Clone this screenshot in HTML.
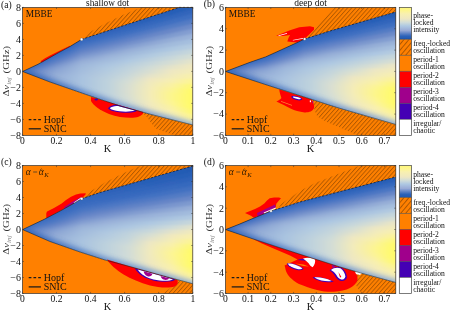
<!DOCTYPE html>
<html><head><meta charset="utf-8"><title>figure</title>
<style>
html,body{margin:0;padding:0;background:#fff;}
body{width:450px;height:311px;overflow:hidden;position:relative;font-family:"Liberation Serif",serif;}
svg{position:absolute;left:0;top:0;opacity:0.999;}
text{font-family:"Liberation Serif",serif;fill:#111;}
.t{font-size:9.6px;}
.s{font-size:7.6px;}
</style></head><body>
<svg width="450" height="311" viewBox="0 0 450 311">
<defs>
<pattern id="hatch" width="3.06" height="3.06" patternUnits="userSpaceOnUse" patternTransform="rotate(-48)">
<rect width="3.06" height="3.06" fill="#ff8000"/>
<line x1="0" y1="0.5" x2="3.06" y2="0.5" stroke="#552a00" stroke-width="0.42"/>
</pattern>
<pattern id="hatch2" width="3.8" height="3.8" patternUnits="userSpaceOnUse" patternTransform="rotate(-50)">
<rect width="3.8" height="3.8" fill="#ff8000"/>
<line x1="0" y1="0.5" x2="3.8" y2="0.5" stroke="#4a2400" stroke-width="0.45"/>
</pattern>

<linearGradient id="ga" gradientUnits="userSpaceOnUse" x1="179.5" y1="7.4" x2="214.3" y2="113.9">
<stop offset="0" stop-color="#1f58b2"/>
<stop offset="0.09" stop-color="#3a6cc0"/>
<stop offset="0.17" stop-color="#6a88c8"/>
<stop offset="0.25" stop-color="#a0acd4"/>
<stop offset="0.33" stop-color="#b4cce2"/>
<stop offset="0.42" stop-color="#d0dcd8"/>
<stop offset="0.5" stop-color="#eee7c2"/>
<stop offset="0.65" stop-color="#f4ecb8"/>
<stop offset="0.8" stop-color="#f2eab8"/>
<stop offset="1" stop-color="#ece6c0"/>
</linearGradient>
<linearGradient id="gb" gradientUnits="userSpaceOnUse" x1="395.8" y1="12.0" x2="429.4" y2="125.1">
<stop offset="0" stop-color="#1f58b2"/>
<stop offset="0.09" stop-color="#3a6cc0"/>
<stop offset="0.17" stop-color="#6a88c8"/>
<stop offset="0.25" stop-color="#a0acd4"/>
<stop offset="0.33" stop-color="#b4cce2"/>
<stop offset="0.42" stop-color="#d0dcd8"/>
<stop offset="0.5" stop-color="#eee7c2"/>
<stop offset="0.65" stop-color="#f4ecb8"/>
<stop offset="0.8" stop-color="#f2eab8"/>
<stop offset="1" stop-color="#ece6c0"/>
</linearGradient>
<linearGradient id="gc" gradientUnits="userSpaceOnUse" x1="192.8" y1="166.0" x2="224.4" y2="273.4">
<stop offset="0" stop-color="#1f58b2"/>
<stop offset="0.09" stop-color="#3a6cc0"/>
<stop offset="0.17" stop-color="#6a88c8"/>
<stop offset="0.25" stop-color="#a0acd4"/>
<stop offset="0.33" stop-color="#b4cce2"/>
<stop offset="0.42" stop-color="#d0dcd8"/>
<stop offset="0.5" stop-color="#eee7c2"/>
<stop offset="0.65" stop-color="#f4ecb8"/>
<stop offset="0.8" stop-color="#f2eab8"/>
<stop offset="1" stop-color="#ece6c0"/>
</linearGradient>
<linearGradient id="gd" gradientUnits="userSpaceOnUse" x1="395.8" y1="177.0" x2="425.2" y2="285.1">
<stop offset="0" stop-color="#1f58b2"/>
<stop offset="0.09" stop-color="#3a6cc0"/>
<stop offset="0.17" stop-color="#6a88c8"/>
<stop offset="0.25" stop-color="#a0acd4"/>
<stop offset="0.33" stop-color="#b4cce2"/>
<stop offset="0.42" stop-color="#d0dcd8"/>
<stop offset="0.5" stop-color="#eee7c2"/>
<stop offset="0.65" stop-color="#f4ecb8"/>
<stop offset="0.8" stop-color="#f2eab8"/>
<stop offset="1" stop-color="#ece6c0"/>
</linearGradient>
<linearGradient id="cb" gradientUnits="userSpaceOnUse" x1="0" y1="39.4" x2="0" y2="7.4">
<stop offset="0" stop-color="#1f58b2"/>
<stop offset="0.1" stop-color="#2c62b8"/>
<stop offset="0.18" stop-color="#5a80c6"/>
<stop offset="0.28" stop-color="#98aad6"/>
<stop offset="0.42" stop-color="#aec8e2"/>
<stop offset="0.53" stop-color="#d0dcd8"/>
<stop offset="0.64" stop-color="#eee7c2"/>
<stop offset="0.8" stop-color="#f8f0b0"/>
<stop offset="0.9" stop-color="#fdf590"/>
<stop offset="1" stop-color="#fff978"/>
</linearGradient>
<linearGradient id="ta" gradientUnits="userSpaceOnUse" x1="22" y1="0" x2="150" y2="0"><stop offset="0" stop-color="#7c9ccc" stop-opacity="0.12"/><stop offset="1" stop-color="#4a78be" stop-opacity="0"/></linearGradient>
<linearGradient id="tb" gradientUnits="userSpaceOnUse" x1="225" y1="0" x2="360" y2="0"><stop offset="0" stop-color="#7c9ccc" stop-opacity="0.12"/><stop offset="1" stop-color="#4a78be" stop-opacity="0"/></linearGradient>
<radialGradient id="ya" gradientUnits="userSpaceOnUse" cx="198" cy="95" r="62"><stop offset="0" stop-color="#fffa60" stop-opacity="0.95"/><stop offset="0.35" stop-color="#fff670" stop-opacity="0.6"/><stop offset="0.7" stop-color="#fff290" stop-opacity="0.2"/><stop offset="1" stop-color="#fff290" stop-opacity="0"/></radialGradient>
<radialGradient id="yb" gradientUnits="userSpaceOnUse" cx="401" cy="90" r="66"><stop offset="0" stop-color="#fffa60" stop-opacity="0.95"/><stop offset="0.35" stop-color="#fff670" stop-opacity="0.6"/><stop offset="0.7" stop-color="#fff290" stop-opacity="0.2"/><stop offset="1" stop-color="#fff290" stop-opacity="0"/></radialGradient>
<radialGradient id="yc" gradientUnits="userSpaceOnUse" cx="198" cy="253" r="62"><stop offset="0" stop-color="#fffa60" stop-opacity="0.95"/><stop offset="0.35" stop-color="#fff670" stop-opacity="0.6"/><stop offset="0.7" stop-color="#fff290" stop-opacity="0.2"/><stop offset="1" stop-color="#fff290" stop-opacity="0"/></radialGradient>
<radialGradient id="yd" gradientUnits="userSpaceOnUse" cx="401" cy="250" r="66"><stop offset="0" stop-color="#fffa60" stop-opacity="0.95"/><stop offset="0.35" stop-color="#fff670" stop-opacity="0.6"/><stop offset="0.7" stop-color="#fff290" stop-opacity="0.2"/><stop offset="1" stop-color="#fff290" stop-opacity="0"/></radialGradient>
<filter id="bl1" x="-5%" y="-5%" width="110%" height="110%"><feGaussianBlur stdDeviation="1.1"/></filter>
<linearGradient id="lsa" gradientUnits="userSpaceOnUse" x1="22" y1="0" x2="193" y2="0"><stop offset="0" stop-color="#2f64ba"/><stop offset="0.45" stop-color="#5c86c6"/><stop offset="1" stop-color="#88a8d4"/></linearGradient>
<linearGradient id="lsb" gradientUnits="userSpaceOnUse" x1="225" y1="0" x2="396" y2="0"><stop offset="0" stop-color="#2f64ba"/><stop offset="0.45" stop-color="#5c86c6"/><stop offset="1" stop-color="#88a8d4"/></linearGradient>
<filter id="bl" x="-10%" y="-10%" width="120%" height="120%"><feGaussianBlur stdDeviation="2.6"/></filter>
</defs>
<rect width="450" height="311" fill="#fff"/>
<g>
<rect x="22.4" y="7.4" width="170.4" height="128.0" fill="#ff8000"/>
<polygon points="81.6,39.4 92.0,31.0 105.0,23.4 125.0,14.0 141.0,7.4 179.5,7.4" fill="url(#hatch)"/>
<polygon points="142.0,112.0 192.8,125.0 192.8,135.4 175.0,135.4 165.0,132.0 156.0,128.5 152.0,124.0 147.0,117.0" fill="url(#hatch)"/>
<clipPath id="clip_ga"><polygon points="192.8,125.0 175.0,120.5 150.0,114.2 120.0,106.0 100.0,99.3 80.0,92.4 50.0,82.0 22.6,71.5 38.0,64.3 56.7,53.7 70.0,46.5 81.6,39.4 130.0,23.5 179.5,7.4 192.8,7.4"/></clipPath>
<g clip-path="url(#clip_ga)">
<rect x="22.4" y="7.4" width="170.4" height="128.0" fill="url(#ga)"/>
<g filter="url(#bl1)">
<linearGradient id="gar0" gradientUnits="userSpaceOnUse" x1="22.4" y1="0" x2="192.8" y2="0"><stop offset="0" stop-color="#4975c2"/><stop offset="0.08" stop-color="#3a6cc0"/><stop offset="0.2" stop-color="#3367bc"/><stop offset="0.35" stop-color="#2b61b8"/><stop offset="0.5" stop-color="#245cb5"/><stop offset="0.62" stop-color="#1f58b2"/><stop offset="0.75" stop-color="#1f58b2"/><stop offset="0.88" stop-color="#1f58b2"/><stop offset="1" stop-color="#1f58b2"/></linearGradient>
<polygon points="22.4,71.5 22.6,71.5 38.0,62.7 50.0,54.6 56.7,50.0 70.0,41.4 80.0,34.1 81.6,33.0 100.0,25.5 120.0,17.4 150.0,5.4 175.0,-4.5 179.5,-6.3 192.8,-11.6 192.8,140.1 179.5,135.8 175.0,134.4 150.0,126.4 120.0,116.0 100.0,107.7 81.6,99.9 80.0,99.1 70.0,94.5 56.7,88.5 50.0,85.4 38.0,79.5 22.6,72.0 22.4,72.0" fill="url(#gar0)"/>
<linearGradient id="gar1" gradientUnits="userSpaceOnUse" x1="22.4" y1="0" x2="192.8" y2="0"><stop offset="0" stop-color="#4975c2"/><stop offset="0.08" stop-color="#3c6dc0"/><stop offset="0.2" stop-color="#3568bd"/><stop offset="0.35" stop-color="#2e63ba"/><stop offset="0.5" stop-color="#285fb7"/><stop offset="0.62" stop-color="#235bb4"/><stop offset="0.75" stop-color="#1f58b2"/><stop offset="0.88" stop-color="#1f58b2"/><stop offset="1" stop-color="#1f58b2"/></linearGradient>
<polygon points="22.4,71.5 22.6,71.5 38.0,63.3 50.0,55.6 56.7,51.3 70.0,43.2 80.0,36.3 81.6,35.2 100.0,28.2 120.0,20.6 150.0,9.4 175.0,0.1 179.5,-1.6 192.8,-6.5 192.8,140.1 179.5,135.8 175.0,134.4 150.0,126.4 120.0,116.0 100.0,107.7 81.6,99.9 80.0,99.1 70.0,94.5 56.7,88.5 50.0,85.4 38.0,79.5 22.6,72.0 22.4,72.0" fill="url(#gar1)"/>
<linearGradient id="gar2" gradientUnits="userSpaceOnUse" x1="22.4" y1="0" x2="192.8" y2="0"><stop offset="0" stop-color="#4975c2"/><stop offset="0.08" stop-color="#3e6ec1"/><stop offset="0.2" stop-color="#3669be"/><stop offset="0.35" stop-color="#3165bb"/><stop offset="0.5" stop-color="#2b61b8"/><stop offset="0.62" stop-color="#285eb6"/><stop offset="0.75" stop-color="#245bb4"/><stop offset="0.88" stop-color="#2059b2"/><stop offset="1" stop-color="#1f58b2"/></linearGradient>
<polygon points="22.4,71.5 22.6,71.5 38.0,63.8 50.0,56.6 56.7,52.6 70.0,44.9 80.0,38.4 81.6,37.4 100.0,30.9 120.0,23.9 150.0,13.4 175.0,4.7 179.5,3.1 192.8,-1.5 192.8,140.1 179.5,135.8 175.0,134.4 150.0,126.4 120.0,116.0 100.0,107.7 81.6,99.9 80.0,99.1 70.0,94.5 56.7,88.5 50.0,85.4 38.0,79.5 22.6,72.0 22.4,72.0" fill="url(#gar2)"/>
<linearGradient id="gar3" gradientUnits="userSpaceOnUse" x1="22.4" y1="0" x2="192.8" y2="0"><stop offset="0" stop-color="#4975c2"/><stop offset="0.08" stop-color="#4170c1"/><stop offset="0.2" stop-color="#396bc0"/><stop offset="0.35" stop-color="#3568bd"/><stop offset="0.5" stop-color="#3165bb"/><stop offset="0.62" stop-color="#2e63ba"/><stop offset="0.75" stop-color="#2b61b8"/><stop offset="0.88" stop-color="#285fb7"/><stop offset="1" stop-color="#265db5"/></linearGradient>
<polygon points="22.4,71.5 22.6,71.5 38.0,64.4 50.0,57.6 56.7,53.8 70.0,46.7 80.0,40.6 81.6,39.6 100.0,33.6 120.0,27.2 150.0,17.4 175.0,9.3 179.5,7.9 192.8,3.5 192.8,140.1 179.5,135.8 175.0,134.4 150.0,126.4 120.0,116.0 100.0,107.7 81.6,99.9 80.0,99.1 70.0,94.5 56.7,88.5 50.0,85.4 38.0,79.5 22.6,72.0 22.4,72.0" fill="url(#gar3)"/>
<linearGradient id="gar4" gradientUnits="userSpaceOnUse" x1="22.4" y1="0" x2="192.8" y2="0"><stop offset="0" stop-color="#4975c2"/><stop offset="0.08" stop-color="#4472c2"/><stop offset="0.2" stop-color="#3f6fc1"/><stop offset="0.35" stop-color="#3a6cc0"/><stop offset="0.5" stop-color="#386abf"/><stop offset="0.62" stop-color="#3669be"/><stop offset="0.75" stop-color="#3468bd"/><stop offset="0.88" stop-color="#3266bc"/><stop offset="1" stop-color="#3165bb"/></linearGradient>
<polygon points="22.4,71.5 22.6,71.5 38.0,64.9 50.0,58.6 56.7,55.1 70.0,48.4 80.0,42.7 81.6,41.8 100.0,36.4 120.0,30.4 150.0,21.4 175.0,13.9 179.5,12.6 192.8,8.6 192.8,140.1 179.5,135.8 175.0,134.4 150.0,126.4 120.0,116.0 100.0,107.7 81.6,99.9 80.0,99.1 70.0,94.5 56.7,88.5 50.0,85.4 38.0,79.5 22.6,72.0 22.4,72.0" fill="url(#gar4)"/>
<linearGradient id="gar5" gradientUnits="userSpaceOnUse" x1="22.4" y1="0" x2="192.8" y2="0"><stop offset="0" stop-color="#4975c2"/><stop offset="0.08" stop-color="#4774c2"/><stop offset="0.2" stop-color="#4673c2"/><stop offset="0.35" stop-color="#4472c2"/><stop offset="0.5" stop-color="#4271c1"/><stop offset="0.62" stop-color="#4170c1"/><stop offset="0.75" stop-color="#406fc1"/><stop offset="0.88" stop-color="#3f6fc1"/><stop offset="1" stop-color="#3e6ec1"/></linearGradient>
<polygon points="22.4,71.5 22.6,71.5 38.0,65.4 50.0,59.6 56.7,56.4 70.0,50.2 80.0,44.9 81.6,44.0 100.0,39.1 120.0,33.7 150.0,25.5 175.0,18.5 179.5,17.3 192.8,13.6 192.8,140.1 179.5,135.8 175.0,134.4 150.0,126.4 120.0,116.0 100.0,107.7 81.6,99.9 80.0,99.1 70.0,94.5 56.7,88.5 50.0,85.4 38.0,79.5 22.6,72.0 22.4,72.0" fill="url(#gar5)"/>
<linearGradient id="gar6" gradientUnits="userSpaceOnUse" x1="22.4" y1="0" x2="192.8" y2="0"><stop offset="0" stop-color="#4975c2"/><stop offset="0.08" stop-color="#4b76c3"/><stop offset="0.2" stop-color="#4c77c3"/><stop offset="0.35" stop-color="#4e78c3"/><stop offset="0.5" stop-color="#5079c4"/><stop offset="0.62" stop-color="#5179c4"/><stop offset="0.75" stop-color="#527ac4"/><stop offset="0.88" stop-color="#537bc4"/><stop offset="1" stop-color="#547bc4"/></linearGradient>
<polygon points="22.4,71.5 22.6,71.5 38.0,66.0 50.0,60.6 56.7,57.6 70.0,51.9 80.0,47.0 81.6,46.3 100.0,41.8 120.0,37.0 150.0,29.5 175.0,23.2 179.5,22.0 192.8,18.7 192.8,140.1 179.5,135.8 175.0,134.4 150.0,126.4 120.0,116.0 100.0,107.7 81.6,99.9 80.0,99.1 70.0,94.5 56.7,88.5 50.0,85.4 38.0,79.5 22.6,72.0 22.4,72.0" fill="url(#gar6)"/>
<linearGradient id="gar7" gradientUnits="userSpaceOnUse" x1="22.4" y1="0" x2="192.8" y2="0"><stop offset="0" stop-color="#4975c2"/><stop offset="0.08" stop-color="#4e78c3"/><stop offset="0.2" stop-color="#547bc4"/><stop offset="0.35" stop-color="#597ec5"/><stop offset="0.5" stop-color="#5e81c6"/><stop offset="0.62" stop-color="#6283c7"/><stop offset="0.75" stop-color="#6686c7"/><stop offset="0.88" stop-color="#6a88c8"/><stop offset="1" stop-color="#6d8bc9"/></linearGradient>
<polygon points="22.4,71.5 22.6,71.5 38.0,66.5 50.0,61.6 56.7,58.9 70.0,53.7 80.0,49.2 81.6,48.5 100.0,44.5 120.0,40.3 150.0,33.5 175.0,27.8 179.5,26.7 192.8,23.7 192.8,140.1 179.5,135.8 175.0,134.4 150.0,126.4 120.0,116.0 100.0,107.7 81.6,99.9 80.0,99.1 70.0,94.5 56.7,88.5 50.0,85.4 38.0,79.5 22.6,72.0 22.4,72.0" fill="url(#gar7)"/>
<linearGradient id="gar8" gradientUnits="userSpaceOnUse" x1="22.4" y1="0" x2="192.8" y2="0"><stop offset="0" stop-color="#4975c2"/><stop offset="0.08" stop-color="#527ac4"/><stop offset="0.2" stop-color="#5b7fc6"/><stop offset="0.35" stop-color="#6585c7"/><stop offset="0.5" stop-color="#6d8bc9"/><stop offset="0.62" stop-color="#7390cb"/><stop offset="0.75" stop-color="#7995cd"/><stop offset="0.88" stop-color="#7f9bcf"/><stop offset="1" stop-color="#859fd1"/></linearGradient>
<polygon points="22.4,71.5 22.6,71.5 38.0,67.1 50.0,62.7 56.7,60.2 70.0,55.4 80.0,51.3 81.6,50.7 100.0,47.3 120.0,43.5 150.0,37.5 175.0,32.4 179.5,31.5 192.8,28.7 192.8,140.1 179.5,135.8 175.0,134.4 150.0,126.4 120.0,116.0 100.0,107.7 81.6,99.9 80.0,99.1 70.0,94.5 56.7,88.5 50.0,85.4 38.0,79.5 22.6,72.0 22.4,72.0" fill="url(#gar8)"/>
<linearGradient id="gar9" gradientUnits="userSpaceOnUse" x1="22.4" y1="0" x2="192.8" y2="0"><stop offset="0" stop-color="#4975c2"/><stop offset="0.08" stop-color="#567cc5"/><stop offset="0.2" stop-color="#6384c7"/><stop offset="0.35" stop-color="#708dca"/><stop offset="0.5" stop-color="#7b97ce"/><stop offset="0.62" stop-color="#849fd1"/><stop offset="0.75" stop-color="#8da6d4"/><stop offset="0.88" stop-color="#95aed7"/><stop offset="1" stop-color="#9ab2d9"/></linearGradient>
<polygon points="22.4,71.5 22.6,71.5 38.0,67.6 50.0,63.7 56.7,61.4 70.0,57.2 80.0,53.5 81.6,52.9 100.0,50.0 120.0,46.8 150.0,41.5 175.0,37.0 179.5,36.2 192.8,33.8 192.8,140.1 179.5,135.8 175.0,134.4 150.0,126.4 120.0,116.0 100.0,107.7 81.6,99.9 80.0,99.1 70.0,94.5 56.7,88.5 50.0,85.4 38.0,79.5 22.6,72.0 22.4,72.0" fill="url(#gar9)"/>
<linearGradient id="gar10" gradientUnits="userSpaceOnUse" x1="22.4" y1="0" x2="192.8" y2="0"><stop offset="0" stop-color="#4975c2"/><stop offset="0.08" stop-color="#5a7fc5"/><stop offset="0.2" stop-color="#6b89c8"/><stop offset="0.35" stop-color="#7b97ce"/><stop offset="0.5" stop-color="#8aa4d3"/><stop offset="0.62" stop-color="#96aed7"/><stop offset="0.75" stop-color="#9cb5da"/><stop offset="0.88" stop-color="#a2bbdc"/><stop offset="1" stop-color="#a6c0df"/></linearGradient>
<polygon points="22.4,71.5 22.6,71.5 38.0,68.1 50.0,64.7 56.7,62.7 70.0,58.9 80.0,55.6 81.6,55.1 100.0,52.7 120.0,50.1 150.0,45.5 175.0,41.6 179.5,40.9 192.8,38.8 192.8,140.1 179.5,135.8 175.0,134.4 150.0,126.4 120.0,116.0 100.0,107.7 81.6,99.9 80.0,99.1 70.0,94.5 56.7,88.5 50.0,85.4 38.0,79.5 22.6,72.0 22.4,72.0" fill="url(#gar10)"/>
<linearGradient id="gar11" gradientUnits="userSpaceOnUse" x1="22.4" y1="0" x2="192.8" y2="0"><stop offset="0" stop-color="#4975c2"/><stop offset="0.08" stop-color="#5e81c6"/><stop offset="0.2" stop-color="#728fcb"/><stop offset="0.35" stop-color="#87a1d2"/><stop offset="0.5" stop-color="#99b1d8"/><stop offset="0.62" stop-color="#9fb8db"/><stop offset="0.75" stop-color="#a6c0de"/><stop offset="0.88" stop-color="#adc7e1"/><stop offset="1" stop-color="#b5cce0"/></linearGradient>
<polygon points="22.4,71.5 22.6,71.5 38.0,68.7 50.0,65.7 56.7,63.9 70.0,60.7 80.0,57.8 81.6,57.3 100.0,55.4 120.0,53.3 150.0,49.6 175.0,46.2 179.5,45.6 192.8,43.9 192.8,140.1 179.5,135.8 175.0,134.4 150.0,126.4 120.0,116.0 100.0,107.7 81.6,99.9 80.0,99.1 70.0,94.5 56.7,88.5 50.0,85.4 38.0,79.5 22.6,72.0 22.4,72.0" fill="url(#gar11)"/>
<linearGradient id="gar12" gradientUnits="userSpaceOnUse" x1="22.4" y1="0" x2="192.8" y2="0"><stop offset="0" stop-color="#4975c2"/><stop offset="0.08" stop-color="#6283c7"/><stop offset="0.2" stop-color="#7a96ce"/><stop offset="0.35" stop-color="#93abd6"/><stop offset="0.5" stop-color="#a0b9dc"/><stop offset="0.62" stop-color="#a8c1df"/><stop offset="0.75" stop-color="#b1cae1"/><stop offset="0.88" stop-color="#bcd0de"/><stop offset="1" stop-color="#c6d6db"/></linearGradient>
<polygon points="22.4,71.5 22.6,71.5 38.0,69.2 50.0,66.7 56.7,65.2 70.0,62.5 80.0,59.9 81.6,59.5 100.0,58.2 120.0,56.6 150.0,53.6 175.0,50.8 179.5,50.4 192.8,48.9 192.8,140.1 179.5,135.8 175.0,134.4 150.0,126.4 120.0,116.0 100.0,107.7 81.6,99.9 80.0,99.1 70.0,94.5 56.7,88.5 50.0,85.4 38.0,79.5 22.6,72.0 22.4,72.0" fill="url(#gar12)"/>
<linearGradient id="gar13" gradientUnits="userSpaceOnUse" x1="22.4" y1="0" x2="192.8" y2="0"><stop offset="0" stop-color="#4975c2"/><stop offset="0.08" stop-color="#6585c7"/><stop offset="0.2" stop-color="#809bd0"/><stop offset="0.35" stop-color="#9ab2d9"/><stop offset="0.5" stop-color="#a6bfde"/><stop offset="0.62" stop-color="#afc9e2"/><stop offset="0.75" stop-color="#bcd0de"/><stop offset="0.88" stop-color="#c9d8da"/><stop offset="1" stop-color="#d5ded5"/></linearGradient>
<polygon points="22.4,71.5 22.6,71.5 38.0,69.8 50.0,67.7 56.7,66.5 70.0,64.2 80.0,62.1 81.6,61.7 100.0,60.9 120.0,59.9 150.0,57.6 175.0,55.5 179.5,55.1 192.8,53.9 192.8,140.1 179.5,135.8 175.0,134.4 150.0,126.4 120.0,116.0 100.0,107.7 81.6,99.9 80.0,99.1 70.0,94.5 56.7,88.5 50.0,85.4 38.0,79.5 22.6,72.0 22.4,72.0" fill="url(#gar13)"/>
<linearGradient id="gar14" gradientUnits="userSpaceOnUse" x1="22.4" y1="0" x2="192.8" y2="0"><stop offset="0" stop-color="#4975c2"/><stop offset="0.08" stop-color="#6887c8"/><stop offset="0.2" stop-color="#86a0d2"/><stop offset="0.35" stop-color="#9eb7db"/><stop offset="0.5" stop-color="#abc5e1"/><stop offset="0.62" stop-color="#b8cedf"/><stop offset="0.75" stop-color="#c7d7db"/><stop offset="0.88" stop-color="#d6ded3"/><stop offset="1" stop-color="#e5e4c9"/></linearGradient>
<polygon points="22.4,71.5 22.6,71.5 38.0,70.3 50.0,68.7 56.7,67.7 70.0,66.0 80.0,64.2 81.6,64.0 100.0,63.6 120.0,63.2 150.0,61.6 175.0,60.1 179.5,59.8 192.8,59.0 192.8,140.1 179.5,135.8 175.0,134.4 150.0,126.4 120.0,116.0 100.0,107.7 81.6,99.9 80.0,99.1 70.0,94.5 56.7,88.5 50.0,85.4 38.0,79.5 22.6,72.0 22.4,72.0" fill="url(#gar14)"/>
<linearGradient id="gar15" gradientUnits="userSpaceOnUse" x1="22.4" y1="0" x2="192.8" y2="0"><stop offset="0" stop-color="#4975c2"/><stop offset="0.08" stop-color="#6a88c8"/><stop offset="0.2" stop-color="#8aa4d3"/><stop offset="0.35" stop-color="#a1badc"/><stop offset="0.5" stop-color="#b0c9e1"/><stop offset="0.62" stop-color="#bfd2dd"/><stop offset="0.75" stop-color="#d1dcd7"/><stop offset="0.88" stop-color="#e4e3c9"/><stop offset="1" stop-color="#f0e9bf"/></linearGradient>
<polygon points="22.4,71.5 22.6,71.5 38.0,70.9 50.0,69.7 56.7,69.0 70.0,67.7 80.0,66.4 81.6,66.2 100.0,66.3 120.0,66.4 150.0,65.6 175.0,64.7 179.5,64.5 192.8,64.0 192.8,140.1 179.5,135.8 175.0,134.4 150.0,126.4 120.0,116.0 100.0,107.7 81.6,99.9 80.0,99.1 70.0,94.5 56.7,88.5 50.0,85.4 38.0,79.5 22.6,72.0 22.4,72.0" fill="url(#gar15)"/>
<linearGradient id="gar16" gradientUnits="userSpaceOnUse" x1="22.4" y1="0" x2="192.8" y2="0"><stop offset="0" stop-color="#4975c2"/><stop offset="0.08" stop-color="#6c89c9"/><stop offset="0.2" stop-color="#8da6d4"/><stop offset="0.35" stop-color="#a3bcdd"/><stop offset="0.5" stop-color="#b3cbe0"/><stop offset="0.62" stop-color="#c4d5dc"/><stop offset="0.75" stop-color="#d9dfd1"/><stop offset="0.88" stop-color="#efe8c1"/><stop offset="1" stop-color="#f4ecb8"/></linearGradient>
<polygon points="22.4,71.5 22.6,71.5 38.0,71.4 50.0,70.8 56.7,70.3 70.0,69.5 80.0,68.5 81.6,68.4 100.0,69.1 120.0,69.7 150.0,69.6 175.0,69.3 179.5,69.2 192.8,69.1 192.8,140.1 179.5,135.8 175.0,134.4 150.0,126.4 120.0,116.0 100.0,107.7 81.6,99.9 80.0,99.1 70.0,94.5 56.7,88.5 50.0,85.4 38.0,79.5 22.6,72.0 22.4,72.0" fill="url(#gar16)"/>
<linearGradient id="gar17" gradientUnits="userSpaceOnUse" x1="22.4" y1="0" x2="192.8" y2="0"><stop offset="0" stop-color="#4975c2"/><stop offset="0.08" stop-color="#6d8bc9"/><stop offset="0.2" stop-color="#8fa8d5"/><stop offset="0.35" stop-color="#a5bede"/><stop offset="0.5" stop-color="#b7cddf"/><stop offset="0.62" stop-color="#c9d8da"/><stop offset="0.75" stop-color="#e4e3ca"/><stop offset="0.88" stop-color="#f2ebba"/><stop offset="1" stop-color="#f9f1aa"/></linearGradient>
<polygon points="22.4,71.5 22.6,71.5 38.0,71.9 50.0,71.8 56.7,71.5 70.0,71.2 80.0,70.7 81.6,70.6 100.0,71.8 120.0,73.0 150.0,73.7 175.0,73.9 179.5,74.0 192.8,74.1 192.8,140.1 179.5,135.8 175.0,134.4 150.0,126.4 120.0,116.0 100.0,107.7 81.6,99.9 80.0,99.1 70.0,94.5 56.7,88.5 50.0,85.4 38.0,79.5 22.6,72.0 22.4,72.0" fill="url(#gar17)"/>
<linearGradient id="gar18" gradientUnits="userSpaceOnUse" x1="22.4" y1="0" x2="192.8" y2="0"><stop offset="0" stop-color="#4975c2"/><stop offset="0.08" stop-color="#6e8cc9"/><stop offset="0.2" stop-color="#92abd6"/><stop offset="0.35" stop-color="#a7c0df"/><stop offset="0.5" stop-color="#bacfde"/><stop offset="0.62" stop-color="#cfdbd8"/><stop offset="0.75" stop-color="#efe7c1"/><stop offset="0.88" stop-color="#f7efb1"/><stop offset="1" stop-color="#fdf591"/></linearGradient>
<polygon points="22.4,71.5 22.6,71.5 38.0,72.5 50.0,72.8 56.7,72.8 70.0,73.0 80.0,72.8 81.6,72.8 100.0,74.5 120.0,76.2 150.0,77.7 175.0,78.5 179.5,78.7 192.8,79.1 192.8,140.1 179.5,135.8 175.0,134.4 150.0,126.4 120.0,116.0 100.0,107.7 81.6,99.9 80.0,99.1 70.0,94.5 56.7,88.5 50.0,85.4 38.0,79.5 22.6,72.0 22.4,72.0" fill="url(#gar18)"/>
<linearGradient id="gar19" gradientUnits="userSpaceOnUse" x1="22.4" y1="0" x2="192.8" y2="0"><stop offset="0" stop-color="#4975c2"/><stop offset="0.08" stop-color="#708dca"/><stop offset="0.2" stop-color="#94add7"/><stop offset="0.35" stop-color="#a9c2e0"/><stop offset="0.5" stop-color="#bdd1dd"/><stop offset="0.62" stop-color="#d5ded5"/><stop offset="0.75" stop-color="#f1eabc"/><stop offset="0.88" stop-color="#faf2a1"/><stop offset="1" stop-color="#fef974"/></linearGradient>
<polygon points="22.4,71.5 22.6,71.5 38.0,73.0 50.0,73.8 56.7,74.1 70.0,74.7 80.0,75.0 81.6,75.0 100.0,77.2 120.0,79.5 150.0,81.7 175.0,83.1 179.5,83.4 192.8,84.2 192.8,140.1 179.5,135.8 175.0,134.4 150.0,126.4 120.0,116.0 100.0,107.7 81.6,99.9 80.0,99.1 70.0,94.5 56.7,88.5 50.0,85.4 38.0,79.5 22.6,72.0 22.4,72.0" fill="url(#gar19)"/>
<linearGradient id="gar20" gradientUnits="userSpaceOnUse" x1="22.4" y1="0" x2="192.8" y2="0"><stop offset="0" stop-color="#4975c2"/><stop offset="0.08" stop-color="#708dca"/><stop offset="0.2" stop-color="#95aed7"/><stop offset="0.35" stop-color="#a9c3e0"/><stop offset="0.5" stop-color="#bed2dd"/><stop offset="0.62" stop-color="#d8dfd2"/><stop offset="0.75" stop-color="#f3ebb9"/><stop offset="0.88" stop-color="#fcf493"/><stop offset="1" stop-color="#fffb66"/></linearGradient>
<polygon points="22.4,71.5 22.6,71.5 38.0,73.6 50.0,74.8 56.7,75.3 70.0,76.5 80.0,77.1 81.6,77.2 100.0,80.0 120.0,82.8 150.0,85.7 175.0,87.8 179.5,88.1 192.8,89.2 192.8,140.1 179.5,135.8 175.0,134.4 150.0,126.4 120.0,116.0 100.0,107.7 81.6,99.9 80.0,99.1 70.0,94.5 56.7,88.5 50.0,85.4 38.0,79.5 22.6,72.0 22.4,72.0" fill="url(#gar20)"/>
<linearGradient id="gar21" gradientUnits="userSpaceOnUse" x1="22.4" y1="0" x2="192.8" y2="0"><stop offset="0" stop-color="#4975c2"/><stop offset="0.08" stop-color="#708dca"/><stop offset="0.2" stop-color="#95aed7"/><stop offset="0.35" stop-color="#a9c3e0"/><stop offset="0.5" stop-color="#bed2dd"/><stop offset="0.62" stop-color="#d9dfd2"/><stop offset="0.75" stop-color="#f4ecb7"/><stop offset="0.88" stop-color="#fdf68b"/><stop offset="1" stop-color="#fffb66"/></linearGradient>
<polygon points="22.4,71.5 22.6,71.5 38.0,74.1 50.0,75.8 56.7,76.6 70.0,78.2 80.0,79.3 81.6,79.5 100.0,82.7 120.0,86.1 150.0,89.7 175.0,92.4 179.5,92.8 192.8,94.3 192.8,140.1 179.5,135.8 175.0,134.4 150.0,126.4 120.0,116.0 100.0,107.7 81.6,99.9 80.0,99.1 70.0,94.5 56.7,88.5 50.0,85.4 38.0,79.5 22.6,72.0 22.4,72.0" fill="url(#gar21)"/>
<linearGradient id="gar22" gradientUnits="userSpaceOnUse" x1="22.4" y1="0" x2="192.8" y2="0"><stop offset="0" stop-color="#4975c2"/><stop offset="0.08" stop-color="#708dca"/><stop offset="0.2" stop-color="#95aed7"/><stop offset="0.35" stop-color="#a9c3e0"/><stop offset="0.5" stop-color="#bed2dd"/><stop offset="0.62" stop-color="#d9dfd1"/><stop offset="0.75" stop-color="#f4ecb7"/><stop offset="0.88" stop-color="#fdf68b"/><stop offset="1" stop-color="#fffb66"/></linearGradient>
<polygon points="22.4,71.5 22.6,71.5 38.0,74.6 50.0,76.8 56.7,77.9 70.0,80.0 80.0,81.4 81.6,81.7 100.0,85.4 120.0,89.3 150.0,93.7 175.0,97.0 179.5,97.6 192.8,99.3 192.8,140.1 179.5,135.8 175.0,134.4 150.0,126.4 120.0,116.0 100.0,107.7 81.6,99.9 80.0,99.1 70.0,94.5 56.7,88.5 50.0,85.4 38.0,79.5 22.6,72.0 22.4,72.0" fill="url(#gar22)"/>
<linearGradient id="gar23" gradientUnits="userSpaceOnUse" x1="22.4" y1="0" x2="192.8" y2="0"><stop offset="0" stop-color="#4975c2"/><stop offset="0.08" stop-color="#708dca"/><stop offset="0.2" stop-color="#95aed7"/><stop offset="0.35" stop-color="#a9c3e0"/><stop offset="0.5" stop-color="#bed2dd"/><stop offset="0.62" stop-color="#d8dfd2"/><stop offset="0.75" stop-color="#f3ecb9"/><stop offset="0.88" stop-color="#fdf593"/><stop offset="1" stop-color="#fffb66"/></linearGradient>
<polygon points="22.4,71.5 22.6,71.5 38.0,75.2 50.0,77.9 56.7,79.1 70.0,81.7 80.0,83.6 81.6,83.9 100.0,88.1 120.0,92.6 150.0,97.7 175.0,101.6 179.5,102.3 192.8,104.3 192.8,140.1 179.5,135.8 175.0,134.4 150.0,126.4 120.0,116.0 100.0,107.7 81.6,99.9 80.0,99.1 70.0,94.5 56.7,88.5 50.0,85.4 38.0,79.5 22.6,72.0 22.4,72.0" fill="url(#gar23)"/>
<linearGradient id="gar24" gradientUnits="userSpaceOnUse" x1="22.4" y1="0" x2="192.8" y2="0"><stop offset="0" stop-color="#4975c2"/><stop offset="0.08" stop-color="#6f8dca"/><stop offset="0.2" stop-color="#94acd7"/><stop offset="0.35" stop-color="#a8c2df"/><stop offset="0.5" stop-color="#bdd1de"/><stop offset="0.62" stop-color="#d4ddd5"/><stop offset="0.75" stop-color="#f1eabd"/><stop offset="0.88" stop-color="#faf2a2"/><stop offset="1" stop-color="#fef974"/></linearGradient>
<polygon points="22.4,71.5 22.6,71.5 38.0,75.7 50.0,78.9 56.7,80.4 70.0,83.5 80.0,85.7 81.6,86.1 100.0,90.9 120.0,95.9 150.0,101.8 175.0,106.2 179.5,107.0 192.8,109.4 192.8,140.1 179.5,135.8 175.0,134.4 150.0,126.4 120.0,116.0 100.0,107.7 81.6,99.9 80.0,99.1 70.0,94.5 56.7,88.5 50.0,85.4 38.0,79.5 22.6,72.0 22.4,72.0" fill="url(#gar24)"/>
<linearGradient id="gar25" gradientUnits="userSpaceOnUse" x1="22.4" y1="0" x2="192.8" y2="0"><stop offset="0" stop-color="#4975c2"/><stop offset="0.08" stop-color="#6f8cca"/><stop offset="0.2" stop-color="#92abd6"/><stop offset="0.35" stop-color="#a7c1df"/><stop offset="0.5" stop-color="#bbcfde"/><stop offset="0.62" stop-color="#d0dcd8"/><stop offset="0.75" stop-color="#efe8c1"/><stop offset="0.88" stop-color="#f8f0b1"/><stop offset="1" stop-color="#fdf58f"/></linearGradient>
<polygon points="22.4,71.5 22.6,71.5 38.0,76.3 50.0,79.9 56.7,81.7 70.0,85.3 80.0,87.9 81.6,88.3 100.0,93.6 120.0,99.1 150.0,105.8 175.0,110.8 179.5,111.7 192.8,114.4 192.8,140.1 179.5,135.8 175.0,134.4 150.0,126.4 120.0,116.0 100.0,107.7 81.6,99.9 80.0,99.1 70.0,94.5 56.7,88.5 50.0,85.4 38.0,79.5 22.6,72.0 22.4,72.0" fill="url(#gar25)"/>
<linearGradient id="gar26" gradientUnits="userSpaceOnUse" x1="22.4" y1="0" x2="192.8" y2="0"><stop offset="0" stop-color="#4975c2"/><stop offset="0.08" stop-color="#6e8bc9"/><stop offset="0.2" stop-color="#91aad6"/><stop offset="0.35" stop-color="#a6bfde"/><stop offset="0.5" stop-color="#b9cedf"/><stop offset="0.62" stop-color="#ccd9d9"/><stop offset="0.75" stop-color="#e7e4c7"/><stop offset="0.88" stop-color="#f3ecb9"/><stop offset="1" stop-color="#f9f1a8"/></linearGradient>
<polygon points="22.4,71.5 22.6,71.5 38.0,76.8 50.0,80.9 56.7,82.9 70.0,87.0 80.0,90.0 81.6,90.5 100.0,96.3 120.0,102.4 150.0,109.8 175.0,115.4 179.5,116.5 192.8,119.5 192.8,140.1 179.5,135.8 175.0,134.4 150.0,126.4 120.0,116.0 100.0,107.7 81.6,99.9 80.0,99.1 70.0,94.5 56.7,88.5 50.0,85.4 38.0,79.5 22.6,72.0 22.4,72.0" fill="url(#gar26)"/>
<linearGradient id="gar27" gradientUnits="userSpaceOnUse" x1="22.4" y1="0" x2="192.8" y2="0"><stop offset="0" stop-color="#4975c2"/><stop offset="0.08" stop-color="#6d8bc9"/><stop offset="0.2" stop-color="#90a9d5"/><stop offset="0.35" stop-color="#a5bfde"/><stop offset="0.5" stop-color="#b7cedf"/><stop offset="0.62" stop-color="#c9d8da"/><stop offset="0.75" stop-color="#dfe1cd"/><stop offset="0.88" stop-color="#f0e9be"/><stop offset="1" stop-color="#f5edb5"/></linearGradient>
<polygon points="22.4,71.5 22.6,71.5 38.0,77.3 50.0,81.9 56.7,84.2 70.0,88.8 80.0,92.2 81.6,92.7 100.0,99.0 120.0,105.7 150.0,113.8 175.0,120.1 179.5,121.2 192.8,124.5 192.8,140.1 179.5,135.8 175.0,134.4 150.0,126.4 120.0,116.0 100.0,107.7 81.6,99.9 80.0,99.1 70.0,94.5 56.7,88.5 50.0,85.4 38.0,79.5 22.6,72.0 22.4,72.0" fill="url(#gar27)"/>
<linearGradient id="gar28" gradientUnits="userSpaceOnUse" x1="22.4" y1="0" x2="192.8" y2="0"><stop offset="0" stop-color="#4975c2"/><stop offset="0.08" stop-color="#6d8bc9"/><stop offset="0.2" stop-color="#8fa8d5"/><stop offset="0.35" stop-color="#a5bede"/><stop offset="0.5" stop-color="#b6cde0"/><stop offset="0.62" stop-color="#c7d7db"/><stop offset="0.75" stop-color="#dae0d1"/><stop offset="0.88" stop-color="#eee7c2"/><stop offset="1" stop-color="#f2eabb"/></linearGradient>
<polygon points="22.4,71.5 22.6,71.5 38.0,77.9 50.0,82.9 56.7,85.5 70.0,90.5 80.0,94.3 81.6,95.0 100.0,101.8 120.0,109.0 150.0,117.8 175.0,124.7 179.5,125.9 192.8,129.6 192.8,140.1 179.5,135.8 175.0,134.4 150.0,126.4 120.0,116.0 100.0,107.7 81.6,99.9 80.0,99.1 70.0,94.5 56.7,88.5 50.0,85.4 38.0,79.5 22.6,72.0 22.4,72.0" fill="url(#gar28)"/>
<linearGradient id="gar29" gradientUnits="userSpaceOnUse" x1="22.4" y1="0" x2="192.8" y2="0"><stop offset="0" stop-color="#4975c2"/><stop offset="0.08" stop-color="#6d8ac9"/><stop offset="0.2" stop-color="#8ea8d5"/><stop offset="0.35" stop-color="#a4bdde"/><stop offset="0.5" stop-color="#b6cce0"/><stop offset="0.62" stop-color="#c5d6db"/><stop offset="0.75" stop-color="#d6ded3"/><stop offset="0.88" stop-color="#e8e5c7"/><stop offset="1" stop-color="#f0e9bf"/></linearGradient>
<polygon points="22.4,71.5 22.6,71.5 38.0,78.4 50.0,83.9 56.7,86.7 70.0,92.3 80.0,96.5 81.6,97.2 100.0,104.5 120.0,112.2 150.0,121.8 175.0,129.3 179.5,130.6 192.8,134.6 192.8,140.1 179.5,135.8 175.0,134.4 150.0,126.4 120.0,116.0 100.0,107.7 81.6,99.9 80.0,99.1 70.0,94.5 56.7,88.5 50.0,85.4 38.0,79.5 22.6,72.0 22.4,72.0" fill="url(#gar29)"/>
</g>
<polyline points="22.6,73.0 50.0,83.5 80.0,93.9 100.0,100.8 120.0,107.5 150.0,115.7 175.0,122.0 202.8,129.5" fill="none" stroke="url(#lsa)" stroke-width="9" opacity="0.9" filter="url(#bl)"/>
</g>

<polygon points="40.6,61.2 45,58.2 50,55.6 62,49.4 70,45.8 70,46.4 62,50.6 50,57.6 41.5,62.6" fill="#ff0000"/>
<path d="M91,97 L143,112 C144,114 140,117 135,117.6 C128,118.4 118,117.2 109,114 C100,110.5 93,105 91,101 Z" fill="#ff0000"/>
<ellipse cx="96.2" cy="99.6" rx="1.8" ry="1" fill="#4400b4"/>
<path d="M108,108.2 C110,106 114,104.4 118,104.9 L137.5,110.8 C134,112.8 126,113.3 119,112.3 C113,111.5 109,110 108,108.2 Z" fill="#4400b4"/>
<path d="M109.8,108.2 C111.5,106.6 114.5,105.6 118,106 L135,110.6 C131,111.8 125,112.1 119.5,111.3 C114.5,110.6 111,109.5 109.8,108.2 Z" fill="#fff"/>

<polyline points="22.6,71.5 50.0,82.0 80.0,92.4 100.0,99.3 120.0,106.0 150.0,114.2 175.0,120.5 192.8,125.0" fill="none" stroke="#1a1a1a" stroke-width="0.58"/>
<polyline points="22.6,71.5 38.0,64.3 56.7,53.7 70.0,46.5 81.6,39.4" fill="none" stroke="#1a1a1a" stroke-width="0.58"/>
<polyline points="81.6,39.4 130.0,23.5 179.5,7.4 192.8,7.4" fill="none" stroke="#1a1a1a" stroke-width="0.7" stroke-dasharray="2.2,1.6"/>
<circle cx="81.6" cy="39.4" r="1.3" fill="#fff" stroke="#555" stroke-width="0.3"/>
<rect x="22.4" y="7.4" width="170.4" height="128.0" fill="none" stroke="#333" stroke-width="0.7"/>
</g>
<g>
<rect x="225.4" y="7.4" width="170.4" height="128.0" fill="#ff8000"/>
<polygon points="304.6,39.0 335.0,7.4 395.8,7.4 395.8,12.0" fill="url(#hatch)"/>
<polygon points="313.0,100.0 395.8,124.5 395.8,135.4 358.0,135.4 340.0,127.5 326.7,122.0 317.3,116.5 314.5,110.0" fill="url(#hatch)"/>
<clipPath id="clip_gb"><polygon points="395.8,124.5 340.0,108.4 330.0,105.3 270.0,86.0 225.6,71.5 250.0,62.3 265.6,56.9 281.1,49.9 296.7,42.8 304.6,39.0 330.0,31.0 395.8,12.0"/></clipPath>
<g clip-path="url(#clip_gb)">
<rect x="225.4" y="7.4" width="170.4" height="128.0" fill="url(#gb)"/>
<g filter="url(#bl1)">
<linearGradient id="gbr0" gradientUnits="userSpaceOnUse" x1="225.4" y1="0" x2="395.8" y2="0"><stop offset="0" stop-color="#4975c2"/><stop offset="0.08" stop-color="#3a6cc0"/><stop offset="0.2" stop-color="#3367bc"/><stop offset="0.35" stop-color="#2b61b8"/><stop offset="0.5" stop-color="#245cb5"/><stop offset="0.62" stop-color="#1f58b2"/><stop offset="0.75" stop-color="#1f58b2"/><stop offset="0.88" stop-color="#1f58b2"/><stop offset="1" stop-color="#1f58b2"/></linearGradient>
<polygon points="225.4,71.5 225.6,71.5 250.0,60.2 265.6,53.6 270.0,51.2 281.1,45.1 296.7,36.6 304.6,32.0 330.0,22.1 340.0,18.5 395.8,-1.5 395.8,138.5 340.0,118.5 330.0,114.7 304.6,104.6 296.7,101.3 281.1,94.8 270.0,90.2 265.6,88.4 250.0,82.0 225.6,72.0 225.4,72.0" fill="url(#gbr0)"/>
<linearGradient id="gbr1" gradientUnits="userSpaceOnUse" x1="225.4" y1="0" x2="395.8" y2="0"><stop offset="0" stop-color="#4975c2"/><stop offset="0.08" stop-color="#3c6dc0"/><stop offset="0.2" stop-color="#3568bd"/><stop offset="0.35" stop-color="#2e63ba"/><stop offset="0.5" stop-color="#285fb7"/><stop offset="0.62" stop-color="#235bb4"/><stop offset="0.75" stop-color="#1f58b2"/><stop offset="0.88" stop-color="#1f58b2"/><stop offset="1" stop-color="#1f58b2"/></linearGradient>
<polygon points="225.4,71.5 225.6,71.5 250.0,60.9 265.6,54.7 270.0,52.5 281.1,46.8 296.7,38.7 304.6,34.4 330.0,25.2 340.0,21.8 395.8,3.2 395.8,138.5 340.0,118.5 330.0,114.7 304.6,104.6 296.7,101.3 281.1,94.8 270.0,90.2 265.6,88.4 250.0,82.0 225.6,72.0 225.4,72.0" fill="url(#gbr1)"/>
<linearGradient id="gbr2" gradientUnits="userSpaceOnUse" x1="225.4" y1="0" x2="395.8" y2="0"><stop offset="0" stop-color="#4975c2"/><stop offset="0.08" stop-color="#3e6ec1"/><stop offset="0.2" stop-color="#3669be"/><stop offset="0.35" stop-color="#3165bb"/><stop offset="0.5" stop-color="#2b61b8"/><stop offset="0.62" stop-color="#285eb6"/><stop offset="0.75" stop-color="#245bb4"/><stop offset="0.88" stop-color="#2059b2"/><stop offset="1" stop-color="#1f58b2"/></linearGradient>
<polygon points="225.4,71.5 225.6,71.5 250.0,61.7 265.6,55.9 270.0,53.8 281.1,48.4 296.7,40.9 304.6,36.8 330.0,28.2 340.0,25.1 395.8,7.8 395.8,138.5 340.0,118.5 330.0,114.7 304.6,104.6 296.7,101.3 281.1,94.8 270.0,90.2 265.6,88.4 250.0,82.0 225.6,72.0 225.4,72.0" fill="url(#gbr2)"/>
<linearGradient id="gbr3" gradientUnits="userSpaceOnUse" x1="225.4" y1="0" x2="395.8" y2="0"><stop offset="0" stop-color="#4975c2"/><stop offset="0.08" stop-color="#4170c1"/><stop offset="0.2" stop-color="#396bc0"/><stop offset="0.35" stop-color="#3568bd"/><stop offset="0.5" stop-color="#3165bb"/><stop offset="0.62" stop-color="#2e63ba"/><stop offset="0.75" stop-color="#2b61b8"/><stop offset="0.88" stop-color="#285fb7"/><stop offset="1" stop-color="#265db5"/></linearGradient>
<polygon points="225.4,71.5 225.6,71.5 250.0,62.4 265.6,57.0 270.0,55.0 281.1,50.1 296.7,43.0 304.6,39.2 330.0,31.3 340.0,28.4 395.8,12.5 395.8,138.5 340.0,118.5 330.0,114.7 304.6,104.6 296.7,101.3 281.1,94.8 270.0,90.2 265.6,88.4 250.0,82.0 225.6,72.0 225.4,72.0" fill="url(#gbr3)"/>
<linearGradient id="gbr4" gradientUnits="userSpaceOnUse" x1="225.4" y1="0" x2="395.8" y2="0"><stop offset="0" stop-color="#4975c2"/><stop offset="0.08" stop-color="#4472c2"/><stop offset="0.2" stop-color="#3f6fc1"/><stop offset="0.35" stop-color="#3a6cc0"/><stop offset="0.5" stop-color="#386abf"/><stop offset="0.62" stop-color="#3669be"/><stop offset="0.75" stop-color="#3468bd"/><stop offset="0.88" stop-color="#3266bc"/><stop offset="1" stop-color="#3165bb"/></linearGradient>
<polygon points="225.4,71.5 225.6,71.5 250.0,63.1 265.6,58.2 270.0,56.3 281.1,51.7 296.7,45.1 304.6,41.6 330.0,34.4 340.0,31.8 395.8,17.1 395.8,138.5 340.0,118.5 330.0,114.7 304.6,104.6 296.7,101.3 281.1,94.8 270.0,90.2 265.6,88.4 250.0,82.0 225.6,72.0 225.4,72.0" fill="url(#gbr4)"/>
<linearGradient id="gbr5" gradientUnits="userSpaceOnUse" x1="225.4" y1="0" x2="395.8" y2="0"><stop offset="0" stop-color="#4975c2"/><stop offset="0.08" stop-color="#4774c2"/><stop offset="0.2" stop-color="#4673c2"/><stop offset="0.35" stop-color="#4472c2"/><stop offset="0.5" stop-color="#4271c1"/><stop offset="0.62" stop-color="#4170c1"/><stop offset="0.75" stop-color="#406fc1"/><stop offset="0.88" stop-color="#3f6fc1"/><stop offset="1" stop-color="#3e6ec1"/></linearGradient>
<polygon points="225.4,71.5 225.6,71.5 250.0,63.8 265.6,59.3 270.0,57.6 281.1,53.3 296.7,47.3 304.6,44.0 330.0,37.4 340.0,35.1 395.8,21.8 395.8,138.5 340.0,118.5 330.0,114.7 304.6,104.6 296.7,101.3 281.1,94.8 270.0,90.2 265.6,88.4 250.0,82.0 225.6,72.0 225.4,72.0" fill="url(#gbr5)"/>
<linearGradient id="gbr6" gradientUnits="userSpaceOnUse" x1="225.4" y1="0" x2="395.8" y2="0"><stop offset="0" stop-color="#4975c2"/><stop offset="0.08" stop-color="#4b76c3"/><stop offset="0.2" stop-color="#4c77c3"/><stop offset="0.35" stop-color="#4e78c3"/><stop offset="0.5" stop-color="#5079c4"/><stop offset="0.62" stop-color="#5179c4"/><stop offset="0.75" stop-color="#527ac4"/><stop offset="0.88" stop-color="#537bc4"/><stop offset="1" stop-color="#547bc4"/></linearGradient>
<polygon points="225.4,71.5 225.6,71.5 250.0,64.5 265.6,60.4 270.0,58.9 281.1,55.0 296.7,49.4 304.6,46.4 330.0,40.5 340.0,38.4 395.8,26.4 395.8,138.5 340.0,118.5 330.0,114.7 304.6,104.6 296.7,101.3 281.1,94.8 270.0,90.2 265.6,88.4 250.0,82.0 225.6,72.0 225.4,72.0" fill="url(#gbr6)"/>
<linearGradient id="gbr7" gradientUnits="userSpaceOnUse" x1="225.4" y1="0" x2="395.8" y2="0"><stop offset="0" stop-color="#4975c2"/><stop offset="0.08" stop-color="#4e78c3"/><stop offset="0.2" stop-color="#547bc4"/><stop offset="0.35" stop-color="#597ec5"/><stop offset="0.5" stop-color="#5e81c6"/><stop offset="0.62" stop-color="#6283c7"/><stop offset="0.75" stop-color="#6686c7"/><stop offset="0.88" stop-color="#6a88c8"/><stop offset="1" stop-color="#6d8bc9"/></linearGradient>
<polygon points="225.4,71.5 225.6,71.5 250.0,65.2 265.6,61.6 270.0,60.2 281.1,56.6 296.7,51.6 304.6,48.8 330.0,43.6 340.0,41.7 395.8,31.1 395.8,138.5 340.0,118.5 330.0,114.7 304.6,104.6 296.7,101.3 281.1,94.8 270.0,90.2 265.6,88.4 250.0,82.0 225.6,72.0 225.4,72.0" fill="url(#gbr7)"/>
<linearGradient id="gbr8" gradientUnits="userSpaceOnUse" x1="225.4" y1="0" x2="395.8" y2="0"><stop offset="0" stop-color="#4975c2"/><stop offset="0.08" stop-color="#527ac4"/><stop offset="0.2" stop-color="#5b7fc6"/><stop offset="0.35" stop-color="#6585c7"/><stop offset="0.5" stop-color="#6d8bc9"/><stop offset="0.62" stop-color="#7390cb"/><stop offset="0.75" stop-color="#7995cd"/><stop offset="0.88" stop-color="#7f9bcf"/><stop offset="1" stop-color="#859fd1"/></linearGradient>
<polygon points="225.4,71.5 225.6,71.5 250.0,65.9 265.6,62.7 270.0,61.5 281.1,58.3 296.7,53.7 304.6,51.2 330.0,46.7 340.0,45.0 395.8,35.7 395.8,138.5 340.0,118.5 330.0,114.7 304.6,104.6 296.7,101.3 281.1,94.8 270.0,90.2 265.6,88.4 250.0,82.0 225.6,72.0 225.4,72.0" fill="url(#gbr8)"/>
<linearGradient id="gbr9" gradientUnits="userSpaceOnUse" x1="225.4" y1="0" x2="395.8" y2="0"><stop offset="0" stop-color="#4975c2"/><stop offset="0.08" stop-color="#567cc5"/><stop offset="0.2" stop-color="#6384c7"/><stop offset="0.35" stop-color="#708dca"/><stop offset="0.5" stop-color="#7b97ce"/><stop offset="0.62" stop-color="#849fd1"/><stop offset="0.75" stop-color="#8da6d4"/><stop offset="0.88" stop-color="#95aed7"/><stop offset="1" stop-color="#9ab3d9"/></linearGradient>
<polygon points="225.4,71.5 225.6,71.5 250.0,66.6 265.6,63.9 270.0,62.7 281.1,59.9 296.7,55.9 304.6,53.6 330.0,49.7 340.0,48.3 395.8,40.4 395.8,138.5 340.0,118.5 330.0,114.7 304.6,104.6 296.7,101.3 281.1,94.8 270.0,90.2 265.6,88.4 250.0,82.0 225.6,72.0 225.4,72.0" fill="url(#gbr9)"/>
<linearGradient id="gbr10" gradientUnits="userSpaceOnUse" x1="225.4" y1="0" x2="395.8" y2="0"><stop offset="0" stop-color="#4975c2"/><stop offset="0.08" stop-color="#5a7fc5"/><stop offset="0.2" stop-color="#6b89c8"/><stop offset="0.35" stop-color="#7b97ce"/><stop offset="0.5" stop-color="#8aa4d3"/><stop offset="0.62" stop-color="#96aed7"/><stop offset="0.75" stop-color="#9cb5da"/><stop offset="0.88" stop-color="#a2bbdc"/><stop offset="1" stop-color="#a7c0df"/></linearGradient>
<polygon points="225.4,71.5 225.6,71.5 250.0,67.3 265.6,65.0 270.0,64.0 281.1,61.5 296.7,58.0 304.6,56.1 330.0,52.8 340.0,51.7 395.8,45.0 395.8,138.5 340.0,118.5 330.0,114.7 304.6,104.6 296.7,101.3 281.1,94.8 270.0,90.2 265.6,88.4 250.0,82.0 225.6,72.0 225.4,72.0" fill="url(#gbr10)"/>
<linearGradient id="gbr11" gradientUnits="userSpaceOnUse" x1="225.4" y1="0" x2="395.8" y2="0"><stop offset="0" stop-color="#4975c2"/><stop offset="0.08" stop-color="#5e81c6"/><stop offset="0.2" stop-color="#728fcb"/><stop offset="0.35" stop-color="#87a1d2"/><stop offset="0.5" stop-color="#99b1d8"/><stop offset="0.62" stop-color="#9fb8db"/><stop offset="0.75" stop-color="#a6c0df"/><stop offset="0.88" stop-color="#adc7e2"/><stop offset="1" stop-color="#b5cce0"/></linearGradient>
<polygon points="225.4,71.5 225.6,71.5 250.0,68.0 265.6,66.2 270.0,65.3 281.1,63.2 296.7,60.1 304.6,58.5 330.0,55.9 340.0,55.0 395.8,49.7 395.8,138.5 340.0,118.5 330.0,114.7 304.6,104.6 296.7,101.3 281.1,94.8 270.0,90.2 265.6,88.4 250.0,82.0 225.6,72.0 225.4,72.0" fill="url(#gbr11)"/>
<linearGradient id="gbr12" gradientUnits="userSpaceOnUse" x1="225.4" y1="0" x2="395.8" y2="0"><stop offset="0" stop-color="#4975c2"/><stop offset="0.08" stop-color="#6283c7"/><stop offset="0.2" stop-color="#7a96ce"/><stop offset="0.35" stop-color="#93abd6"/><stop offset="0.5" stop-color="#a0b9dc"/><stop offset="0.62" stop-color="#a8c1df"/><stop offset="0.75" stop-color="#b1cae1"/><stop offset="0.88" stop-color="#bdd1de"/><stop offset="1" stop-color="#c7d7db"/></linearGradient>
<polygon points="225.4,71.5 225.6,71.5 250.0,68.8 265.6,67.3 270.0,66.6 281.1,64.8 296.7,62.3 304.6,60.9 330.0,58.9 340.0,58.3 395.8,54.3 395.8,138.5 340.0,118.5 330.0,114.7 304.6,104.6 296.7,101.3 281.1,94.8 270.0,90.2 265.6,88.4 250.0,82.0 225.6,72.0 225.4,72.0" fill="url(#gbr12)"/>
<linearGradient id="gbr13" gradientUnits="userSpaceOnUse" x1="225.4" y1="0" x2="395.8" y2="0"><stop offset="0" stop-color="#4975c2"/><stop offset="0.08" stop-color="#6585c7"/><stop offset="0.2" stop-color="#809bd0"/><stop offset="0.35" stop-color="#9ab2d9"/><stop offset="0.5" stop-color="#a6bfde"/><stop offset="0.62" stop-color="#afc9e2"/><stop offset="0.75" stop-color="#bdd1de"/><stop offset="0.88" stop-color="#cbd9d9"/><stop offset="1" stop-color="#d8dfd2"/></linearGradient>
<polygon points="225.4,71.5 225.6,71.5 250.0,69.5 265.6,68.4 270.0,67.9 281.1,66.5 296.7,64.4 304.6,63.3 330.0,62.0 340.0,61.6 395.8,59.0 395.8,138.5 340.0,118.5 330.0,114.7 304.6,104.6 296.7,101.3 281.1,94.8 270.0,90.2 265.6,88.4 250.0,82.0 225.6,72.0 225.4,72.0" fill="url(#gbr13)"/>
<linearGradient id="gbr14" gradientUnits="userSpaceOnUse" x1="225.4" y1="0" x2="395.8" y2="0"><stop offset="0" stop-color="#4975c2"/><stop offset="0.08" stop-color="#6887c8"/><stop offset="0.2" stop-color="#86a0d2"/><stop offset="0.35" stop-color="#9eb7db"/><stop offset="0.5" stop-color="#abc5e1"/><stop offset="0.62" stop-color="#b8cedf"/><stop offset="0.75" stop-color="#c9d8da"/><stop offset="0.88" stop-color="#dbe0d0"/><stop offset="1" stop-color="#eee7c2"/></linearGradient>
<polygon points="225.4,71.5 225.6,71.5 250.0,70.2 265.6,69.6 270.0,69.2 281.1,68.1 296.7,66.6 304.6,65.7 330.0,65.1 340.0,64.9 395.8,63.6 395.8,138.5 340.0,118.5 330.0,114.7 304.6,104.6 296.7,101.3 281.1,94.8 270.0,90.2 265.6,88.4 250.0,82.0 225.6,72.0 225.4,72.0" fill="url(#gbr14)"/>
<linearGradient id="gbr15" gradientUnits="userSpaceOnUse" x1="225.4" y1="0" x2="395.8" y2="0"><stop offset="0" stop-color="#4975c2"/><stop offset="0.08" stop-color="#6a88c8"/><stop offset="0.2" stop-color="#8aa4d3"/><stop offset="0.35" stop-color="#a1badc"/><stop offset="0.5" stop-color="#b0c9e1"/><stop offset="0.62" stop-color="#c0d3dd"/><stop offset="0.75" stop-color="#d4ded5"/><stop offset="0.88" stop-color="#ede7c3"/><stop offset="1" stop-color="#f3ebba"/></linearGradient>
<polygon points="225.4,71.5 225.6,71.5 250.0,70.9 265.6,70.7 270.0,70.5 281.1,69.7 296.7,68.7 304.6,68.1 330.0,68.2 340.0,68.3 395.8,68.2 395.8,138.5 340.0,118.5 330.0,114.7 304.6,104.6 296.7,101.3 281.1,94.8 270.0,90.2 265.6,88.4 250.0,82.0 225.6,72.0 225.4,72.0" fill="url(#gbr15)"/>
<linearGradient id="gbr16" gradientUnits="userSpaceOnUse" x1="225.4" y1="0" x2="395.8" y2="0"><stop offset="0" stop-color="#4975c2"/><stop offset="0.08" stop-color="#6c89c9"/><stop offset="0.2" stop-color="#8da6d4"/><stop offset="0.35" stop-color="#a3bcdd"/><stop offset="0.5" stop-color="#b3cbe0"/><stop offset="0.62" stop-color="#c5d6db"/><stop offset="0.75" stop-color="#dfe2cd"/><stop offset="0.88" stop-color="#f1eabc"/><stop offset="1" stop-color="#f8f0ae"/></linearGradient>
<polygon points="225.4,71.5 225.6,71.5 250.0,71.6 265.6,71.9 270.0,71.7 281.1,71.4 296.7,70.8 304.6,70.5 330.0,71.2 340.0,71.6 395.8,72.9 395.8,138.5 340.0,118.5 330.0,114.7 304.6,104.6 296.7,101.3 281.1,94.8 270.0,90.2 265.6,88.4 250.0,82.0 225.6,72.0 225.4,72.0" fill="url(#gbr16)"/>
<linearGradient id="gbr17" gradientUnits="userSpaceOnUse" x1="225.4" y1="0" x2="395.8" y2="0"><stop offset="0" stop-color="#4975c2"/><stop offset="0.08" stop-color="#6d8bc9"/><stop offset="0.2" stop-color="#8fa8d5"/><stop offset="0.35" stop-color="#a5bede"/><stop offset="0.5" stop-color="#b7cddf"/><stop offset="0.62" stop-color="#cbd9da"/><stop offset="0.75" stop-color="#ece6c3"/><stop offset="0.88" stop-color="#f6eeb3"/><stop offset="1" stop-color="#fcf495"/></linearGradient>
<polygon points="225.4,71.5 225.6,71.5 250.0,72.3 265.6,73.0 270.0,73.0 281.1,73.0 296.7,73.0 304.6,72.9 330.0,74.3 340.0,74.9 395.8,77.6 395.8,138.5 340.0,118.5 330.0,114.7 304.6,104.6 296.7,101.3 281.1,94.8 270.0,90.2 265.6,88.4 250.0,82.0 225.6,72.0 225.4,72.0" fill="url(#gbr17)"/>
<linearGradient id="gbr18" gradientUnits="userSpaceOnUse" x1="225.4" y1="0" x2="395.8" y2="0"><stop offset="0" stop-color="#4975c2"/><stop offset="0.08" stop-color="#6e8cc9"/><stop offset="0.2" stop-color="#92abd6"/><stop offset="0.35" stop-color="#a7c0df"/><stop offset="0.5" stop-color="#bacfde"/><stop offset="0.62" stop-color="#d1dcd8"/><stop offset="0.75" stop-color="#f0e9be"/><stop offset="0.88" stop-color="#faf2a5"/><stop offset="1" stop-color="#fef878"/></linearGradient>
<polygon points="225.4,71.5 225.6,71.5 250.0,73.0 265.6,74.2 270.0,74.3 281.1,74.7 296.7,75.1 304.6,75.3 330.0,77.4 340.0,78.2 395.8,82.2 395.8,138.5 340.0,118.5 330.0,114.7 304.6,104.6 296.7,101.3 281.1,94.8 270.0,90.2 265.6,88.4 250.0,82.0 225.6,72.0 225.4,72.0" fill="url(#gbr18)"/>
<linearGradient id="gbr19" gradientUnits="userSpaceOnUse" x1="225.4" y1="0" x2="395.8" y2="0"><stop offset="0" stop-color="#4975c2"/><stop offset="0.08" stop-color="#708dca"/><stop offset="0.2" stop-color="#94add7"/><stop offset="0.35" stop-color="#a9c2e0"/><stop offset="0.5" stop-color="#bdd1dd"/><stop offset="0.62" stop-color="#d6ded3"/><stop offset="0.75" stop-color="#f3ebba"/><stop offset="0.88" stop-color="#fcf495"/><stop offset="1" stop-color="#fffb66"/></linearGradient>
<polygon points="225.4,71.5 225.6,71.5 250.0,73.7 265.6,75.3 270.0,75.6 281.1,76.3 296.7,77.3 304.6,77.7 330.0,80.4 340.0,81.5 395.8,86.9 395.8,138.5 340.0,118.5 330.0,114.7 304.6,104.6 296.7,101.3 281.1,94.8 270.0,90.2 265.6,88.4 250.0,82.0 225.6,72.0 225.4,72.0" fill="url(#gbr19)"/>
<linearGradient id="gbr20" gradientUnits="userSpaceOnUse" x1="225.4" y1="0" x2="395.8" y2="0"><stop offset="0" stop-color="#4975c2"/><stop offset="0.08" stop-color="#708dca"/><stop offset="0.2" stop-color="#95aed7"/><stop offset="0.35" stop-color="#a9c3e0"/><stop offset="0.5" stop-color="#bed2dd"/><stop offset="0.62" stop-color="#d9dfd2"/><stop offset="0.75" stop-color="#f4ecb7"/><stop offset="0.88" stop-color="#fdf68c"/><stop offset="1" stop-color="#fffb66"/></linearGradient>
<polygon points="225.4,71.5 225.6,71.5 250.0,74.4 265.6,76.4 270.0,76.9 281.1,77.9 296.7,79.4 304.6,80.1 330.0,83.5 340.0,84.8 395.8,91.5 395.8,138.5 340.0,118.5 330.0,114.7 304.6,104.6 296.7,101.3 281.1,94.8 270.0,90.2 265.6,88.4 250.0,82.0 225.6,72.0 225.4,72.0" fill="url(#gbr20)"/>
<linearGradient id="gbr21" gradientUnits="userSpaceOnUse" x1="225.4" y1="0" x2="395.8" y2="0"><stop offset="0" stop-color="#4975c2"/><stop offset="0.08" stop-color="#708dca"/><stop offset="0.2" stop-color="#95aed7"/><stop offset="0.35" stop-color="#a9c3e0"/><stop offset="0.5" stop-color="#bed2dd"/><stop offset="0.62" stop-color="#d9dfd1"/><stop offset="0.75" stop-color="#f4ecb7"/><stop offset="0.88" stop-color="#fdf68b"/><stop offset="1" stop-color="#fffb66"/></linearGradient>
<polygon points="225.4,71.5 225.6,71.5 250.0,75.1 265.6,77.6 270.0,78.2 281.1,79.6 296.7,81.5 304.6,82.5 330.0,86.6 340.0,88.2 395.8,96.2 395.8,138.5 340.0,118.5 330.0,114.7 304.6,104.6 296.7,101.3 281.1,94.8 270.0,90.2 265.6,88.4 250.0,82.0 225.6,72.0 225.4,72.0" fill="url(#gbr21)"/>
<linearGradient id="gbr22" gradientUnits="userSpaceOnUse" x1="225.4" y1="0" x2="395.8" y2="0"><stop offset="0" stop-color="#4975c2"/><stop offset="0.08" stop-color="#708dca"/><stop offset="0.2" stop-color="#95aed7"/><stop offset="0.35" stop-color="#a9c3e0"/><stop offset="0.5" stop-color="#bed2dd"/><stop offset="0.62" stop-color="#d8dfd2"/><stop offset="0.75" stop-color="#f3ecb9"/><stop offset="0.88" stop-color="#fdf593"/><stop offset="1" stop-color="#fffb66"/></linearGradient>
<polygon points="225.4,71.5 225.6,71.5 250.0,75.9 265.6,78.7 270.0,79.5 281.1,81.2 296.7,83.7 304.6,84.9 330.0,89.6 340.0,91.5 395.8,100.8 395.8,138.5 340.0,118.5 330.0,114.7 304.6,104.6 296.7,101.3 281.1,94.8 270.0,90.2 265.6,88.4 250.0,82.0 225.6,72.0 225.4,72.0" fill="url(#gbr22)"/>
<linearGradient id="gbr23" gradientUnits="userSpaceOnUse" x1="225.4" y1="0" x2="395.8" y2="0"><stop offset="0" stop-color="#4975c2"/><stop offset="0.08" stop-color="#708dca"/><stop offset="0.2" stop-color="#95aed7"/><stop offset="0.35" stop-color="#a9c3e0"/><stop offset="0.5" stop-color="#bed2dd"/><stop offset="0.62" stop-color="#d6ded4"/><stop offset="0.75" stop-color="#f1eabc"/><stop offset="0.88" stop-color="#fbf39f"/><stop offset="1" stop-color="#fef971"/></linearGradient>
<polygon points="225.4,71.5 225.6,71.5 250.0,76.6 265.6,79.9 270.0,80.7 281.1,82.9 296.7,85.8 304.6,87.3 330.0,92.7 340.0,94.8 395.8,105.5 395.8,138.5 340.0,118.5 330.0,114.7 304.6,104.6 296.7,101.3 281.1,94.8 270.0,90.2 265.6,88.4 250.0,82.0 225.6,72.0 225.4,72.0" fill="url(#gbr23)"/>
<linearGradient id="gbr24" gradientUnits="userSpaceOnUse" x1="225.4" y1="0" x2="395.8" y2="0"><stop offset="0" stop-color="#4975c2"/><stop offset="0.08" stop-color="#6f8dca"/><stop offset="0.2" stop-color="#94acd7"/><stop offset="0.35" stop-color="#a8c2df"/><stop offset="0.5" stop-color="#bdd1de"/><stop offset="0.62" stop-color="#d2ddd7"/><stop offset="0.75" stop-color="#efe8c0"/><stop offset="0.88" stop-color="#f8f0af"/><stop offset="1" stop-color="#fdf58d"/></linearGradient>
<polygon points="225.4,71.5 225.6,71.5 250.0,77.3 265.6,81.0 270.0,82.0 281.1,84.5 296.7,88.0 304.6,89.7 330.0,95.8 340.0,98.1 395.8,110.1 395.8,138.5 340.0,118.5 330.0,114.7 304.6,104.6 296.7,101.3 281.1,94.8 270.0,90.2 265.6,88.4 250.0,82.0 225.6,72.0 225.4,72.0" fill="url(#gbr24)"/>
<linearGradient id="gbr25" gradientUnits="userSpaceOnUse" x1="225.4" y1="0" x2="395.8" y2="0"><stop offset="0" stop-color="#4975c2"/><stop offset="0.08" stop-color="#6f8cca"/><stop offset="0.2" stop-color="#92abd6"/><stop offset="0.35" stop-color="#a7c1df"/><stop offset="0.5" stop-color="#bbcfde"/><stop offset="0.62" stop-color="#cedbd9"/><stop offset="0.75" stop-color="#eae5c5"/><stop offset="0.88" stop-color="#f4ecb8"/><stop offset="1" stop-color="#faf2a5"/></linearGradient>
<polygon points="225.4,71.5 225.6,71.5 250.0,78.0 265.6,82.2 270.0,83.3 281.1,86.1 296.7,90.1 304.6,92.1 330.0,98.9 340.0,101.4 395.8,114.8 395.8,138.5 340.0,118.5 330.0,114.7 304.6,104.6 296.7,101.3 281.1,94.8 270.0,90.2 265.6,88.4 250.0,82.0 225.6,72.0 225.4,72.0" fill="url(#gbr25)"/>
<linearGradient id="gbr26" gradientUnits="userSpaceOnUse" x1="225.4" y1="0" x2="395.8" y2="0"><stop offset="0" stop-color="#4975c2"/><stop offset="0.08" stop-color="#6e8bc9"/><stop offset="0.2" stop-color="#91aad6"/><stop offset="0.35" stop-color="#a6bfde"/><stop offset="0.5" stop-color="#b9cedf"/><stop offset="0.62" stop-color="#cad9da"/><stop offset="0.75" stop-color="#e1e2cc"/><stop offset="0.88" stop-color="#f0e9be"/><stop offset="1" stop-color="#f6eeb4"/></linearGradient>
<polygon points="225.4,71.5 225.6,71.5 250.0,78.7 265.6,83.3 270.0,84.6 281.1,87.8 296.7,92.2 304.6,94.5 330.0,101.9 340.0,104.8 395.8,119.4 395.8,138.5 340.0,118.5 330.0,114.7 304.6,104.6 296.7,101.3 281.1,94.8 270.0,90.2 265.6,88.4 250.0,82.0 225.6,72.0 225.4,72.0" fill="url(#gbr26)"/>
<linearGradient id="gbr27" gradientUnits="userSpaceOnUse" x1="225.4" y1="0" x2="395.8" y2="0"><stop offset="0" stop-color="#4975c2"/><stop offset="0.08" stop-color="#6d8bc9"/><stop offset="0.2" stop-color="#90a9d5"/><stop offset="0.35" stop-color="#a5bfde"/><stop offset="0.5" stop-color="#b7cedf"/><stop offset="0.62" stop-color="#c8d7da"/><stop offset="0.75" stop-color="#dbe0d0"/><stop offset="0.88" stop-color="#eee7c1"/><stop offset="1" stop-color="#f2ebbb"/></linearGradient>
<polygon points="225.4,71.5 225.6,71.5 250.0,79.4 265.6,84.5 270.0,85.9 281.1,89.4 296.7,94.4 304.6,96.9 330.0,105.0 340.0,108.1 395.8,124.1 395.8,138.5 340.0,118.5 330.0,114.7 304.6,104.6 296.7,101.3 281.1,94.8 270.0,90.2 265.6,88.4 250.0,82.0 225.6,72.0 225.4,72.0" fill="url(#gbr27)"/>
<linearGradient id="gbr28" gradientUnits="userSpaceOnUse" x1="225.4" y1="0" x2="395.8" y2="0"><stop offset="0" stop-color="#4975c2"/><stop offset="0.08" stop-color="#6d8bc9"/><stop offset="0.2" stop-color="#8fa8d5"/><stop offset="0.35" stop-color="#a5bede"/><stop offset="0.5" stop-color="#b6cde0"/><stop offset="0.62" stop-color="#c6d6db"/><stop offset="0.75" stop-color="#d8dfd2"/><stop offset="0.88" stop-color="#e9e5c5"/><stop offset="1" stop-color="#f0e9be"/></linearGradient>
<polygon points="225.4,71.5 225.6,71.5 250.0,80.1 265.6,85.6 270.0,87.2 281.1,91.1 296.7,96.5 304.6,99.3 330.0,108.1 340.0,111.4 395.8,128.7 395.8,138.5 340.0,118.5 330.0,114.7 304.6,104.6 296.7,101.3 281.1,94.8 270.0,90.2 265.6,88.4 250.0,82.0 225.6,72.0 225.4,72.0" fill="url(#gbr28)"/>
<linearGradient id="gbr29" gradientUnits="userSpaceOnUse" x1="225.4" y1="0" x2="395.8" y2="0"><stop offset="0" stop-color="#4975c2"/><stop offset="0.08" stop-color="#6d8ac9"/><stop offset="0.2" stop-color="#8ea8d5"/><stop offset="0.35" stop-color="#a4bdde"/><stop offset="0.5" stop-color="#b6cce0"/><stop offset="0.62" stop-color="#c5d6db"/><stop offset="0.75" stop-color="#d6ded4"/><stop offset="0.88" stop-color="#e6e4c8"/><stop offset="1" stop-color="#efe8c0"/></linearGradient>
<polygon points="225.4,71.5 225.6,71.5 250.0,80.8 265.6,86.7 270.0,88.4 281.1,92.7 296.7,98.7 304.6,101.7 330.0,111.1 340.0,114.7 395.8,133.4 395.8,138.5 340.0,118.5 330.0,114.7 304.6,104.6 296.7,101.3 281.1,94.8 270.0,90.2 265.6,88.4 250.0,82.0 225.6,72.0 225.4,72.0" fill="url(#gbr29)"/>
</g>
<polyline points="225.6,73.0 270.0,87.5 330.0,106.8 340.0,109.9 405.8,129.0" fill="none" stroke="url(#lsb)" stroke-width="9" opacity="0.9" filter="url(#bl)"/>
</g>

<polygon points="276,36 283,33 290,30.3 299.3,27.3 310,26.3 314,27.3 314,29.7 308.7,35 304.4,39 296.7,42.6 287.3,41.5 288.5,38 290,35 283.3,35.9" fill="#ff0000"/>
<polygon points="278,35.6 287,33 287,33.8 279,36" fill="#fff"/>
<polygon points="292.7,39.9 303,38 303,38.8 293,40.6" fill="#fff"/>
<path d="M279.2,89.4 L311.6,99.6 C313.4,102.6 314.6,105.6 314,108 C313,111.4 308.6,112.6 304.6,112.4 C299,112 294.6,110.6 291,108.8 C286.6,106.6 281,103.8 276.4,101.6 C278.6,100.4 280.6,99.2 281.4,98 C280.6,95.4 279.6,92.4 279.2,89.4 Z" fill="#ff0000"/>
<ellipse cx="296.7" cy="98.1" rx="5.6" ry="1.9" transform="rotate(14 296.7 98.1)" fill="#4400b4"/>
<ellipse cx="296.9" cy="97.8" rx="4.2" ry="0.9" transform="rotate(14 296.9 97.8)" fill="#fff"/>
<polygon points="281,101 292,105 292,105.7 281,101.8" fill="#ff8a30"/>
<rect x="309.8" y="100.4" width="1.2" height="1.8" fill="#fff"/>
<rect x="312.2" y="101" width="1" height="2.2" fill="#a0008c"/>

<polyline points="225.6,71.5 270.0,86.0 330.0,105.3 340.0,108.4 395.8,124.5" fill="none" stroke="#1a1a1a" stroke-width="0.58"/>
<polyline points="225.6,71.5 250.0,62.3 265.6,56.9 281.1,49.9 296.7,42.8 304.6,39.0" fill="none" stroke="#1a1a1a" stroke-width="0.58"/>
<polyline points="304.6,39.0 330.0,31.0 395.8,12.0" fill="none" stroke="#1a1a1a" stroke-width="0.7" stroke-dasharray="2.2,1.6"/>
<circle cx="304.6" cy="39" r="1.3" fill="#fff" stroke="#555" stroke-width="0.3"/>
<rect x="225.4" y="7.4" width="170.4" height="128.0" fill="none" stroke="#333" stroke-width="0.7"/>
</g>
<g>
<rect x="22.4" y="165.5" width="170.4" height="128.0" fill="#ff8000"/>
<polygon points="81.7,198.7 92.0,190.5 105.0,182.6 125.0,172.6 141.0,165.5 192.8,165.5 192.8,166.0" fill="url(#hatch)"/>
<polygon points="176.0,280.5 192.8,284.0 192.8,293.5 163.0,293.5 177.0,283.0" fill="url(#hatch)"/>
<clipPath id="clip_gc"><polygon points="192.8,283.8 160.0,275.0 130.0,266.6 105.0,260.0 80.0,252.0 50.0,241.5 22.6,229.6 44.3,219.3 62.0,210.0 73.0,203.8 81.7,198.7 100.0,192.5 192.8,166.0"/></clipPath>
<g clip-path="url(#clip_gc)">
<rect x="22.4" y="165.5" width="170.4" height="128.0" fill="url(#gc)"/>
<g filter="url(#bl1)">
<linearGradient id="gcr0" gradientUnits="userSpaceOnUse" x1="22.4" y1="0" x2="192.8" y2="0"><stop offset="0" stop-color="#4975c2"/><stop offset="0.08" stop-color="#3a6cc0"/><stop offset="0.2" stop-color="#3367bc"/><stop offset="0.35" stop-color="#2b61b8"/><stop offset="0.5" stop-color="#245cb5"/><stop offset="0.62" stop-color="#1f58b2"/><stop offset="0.75" stop-color="#1f58b2"/><stop offset="0.88" stop-color="#1f58b2"/><stop offset="1" stop-color="#1f58b2"/></linearGradient>
<polygon points="22.4,229.6 22.6,229.6 44.3,216.9 50.0,213.3 62.0,205.7 73.0,198.3 80.0,193.4 81.7,192.2 100.0,184.6 105.0,182.8 130.0,174.0 160.0,163.4 192.8,151.9 192.8,298.4 160.0,287.5 130.0,277.0 105.0,268.8 100.0,266.8 81.7,259.5 80.0,258.8 73.0,255.5 62.0,250.5 50.0,245.0 44.3,241.9 22.6,230.1 22.4,230.1" fill="url(#gcr0)"/>
<linearGradient id="gcr1" gradientUnits="userSpaceOnUse" x1="22.4" y1="0" x2="192.8" y2="0"><stop offset="0" stop-color="#4975c2"/><stop offset="0.08" stop-color="#3c6dc0"/><stop offset="0.2" stop-color="#3568bd"/><stop offset="0.35" stop-color="#2e63ba"/><stop offset="0.5" stop-color="#285fb7"/><stop offset="0.62" stop-color="#235bb4"/><stop offset="0.75" stop-color="#1f58b2"/><stop offset="0.88" stop-color="#1f58b2"/><stop offset="1" stop-color="#1f58b2"/></linearGradient>
<polygon points="22.4,229.6 22.6,229.6 44.3,217.7 50.0,214.3 62.0,207.2 73.0,200.2 80.0,195.6 81.7,194.5 100.0,187.3 105.0,185.6 130.0,177.4 160.0,167.5 192.8,156.7 192.8,298.4 160.0,287.5 130.0,277.0 105.0,268.8 100.0,266.8 81.7,259.5 80.0,258.8 73.0,255.5 62.0,250.5 50.0,245.0 44.3,241.9 22.6,230.1 22.4,230.1" fill="url(#gcr1)"/>
<linearGradient id="gcr2" gradientUnits="userSpaceOnUse" x1="22.4" y1="0" x2="192.8" y2="0"><stop offset="0" stop-color="#4975c2"/><stop offset="0.08" stop-color="#3e6ec1"/><stop offset="0.2" stop-color="#3669be"/><stop offset="0.35" stop-color="#3165bb"/><stop offset="0.5" stop-color="#2b61b8"/><stop offset="0.62" stop-color="#285eb6"/><stop offset="0.75" stop-color="#245bb4"/><stop offset="0.88" stop-color="#2059b2"/><stop offset="1" stop-color="#1f58b2"/></linearGradient>
<polygon points="22.4,229.6 22.6,229.6 44.3,218.6 50.0,215.4 62.0,208.7 73.0,202.1 80.0,197.7 81.7,196.7 100.0,190.0 105.0,188.5 130.0,180.8 160.0,171.6 192.8,161.6 192.8,298.4 160.0,287.5 130.0,277.0 105.0,268.8 100.0,266.8 81.7,259.5 80.0,258.8 73.0,255.5 62.0,250.5 50.0,245.0 44.3,241.9 22.6,230.1 22.4,230.1" fill="url(#gcr2)"/>
<linearGradient id="gcr3" gradientUnits="userSpaceOnUse" x1="22.4" y1="0" x2="192.8" y2="0"><stop offset="0" stop-color="#4975c2"/><stop offset="0.08" stop-color="#3f6fc1"/><stop offset="0.2" stop-color="#386abf"/><stop offset="0.35" stop-color="#3367bc"/><stop offset="0.5" stop-color="#2e63ba"/><stop offset="0.62" stop-color="#2b61b8"/><stop offset="0.75" stop-color="#275eb6"/><stop offset="0.88" stop-color="#245cb5"/><stop offset="1" stop-color="#215ab3"/></linearGradient>
<polygon points="22.4,229.6 22.6,229.6 44.3,219.4 50.0,216.4 62.0,210.1 73.0,204.0 80.0,199.9 81.7,198.9 100.0,192.8 105.0,191.3 130.0,184.3 160.0,175.8 192.8,166.5 192.8,298.4 160.0,287.5 130.0,277.0 105.0,268.8 100.0,266.8 81.7,259.5 80.0,258.8 73.0,255.5 62.0,250.5 50.0,245.0 44.3,241.9 22.6,230.1 22.4,230.1" fill="url(#gcr3)"/>
<linearGradient id="gcr4" gradientUnits="userSpaceOnUse" x1="22.4" y1="0" x2="192.8" y2="0"><stop offset="0" stop-color="#4975c2"/><stop offset="0.08" stop-color="#4170c1"/><stop offset="0.2" stop-color="#3a6cc0"/><stop offset="0.35" stop-color="#3569be"/><stop offset="0.5" stop-color="#3266bc"/><stop offset="0.62" stop-color="#2f64ba"/><stop offset="0.75" stop-color="#2c62b9"/><stop offset="0.88" stop-color="#2960b7"/><stop offset="1" stop-color="#275eb6"/></linearGradient>
<polygon points="22.4,229.6 22.6,229.6 44.3,220.2 50.0,217.4 62.0,211.6 73.0,205.9 80.0,202.1 81.7,201.1 100.0,195.5 105.0,194.2 130.0,187.7 160.0,179.9 192.8,171.3 192.8,298.4 160.0,287.5 130.0,277.0 105.0,268.8 100.0,266.8 81.7,259.5 80.0,258.8 73.0,255.5 62.0,250.5 50.0,245.0 44.3,241.9 22.6,230.1 22.4,230.1" fill="url(#gcr4)"/>
<linearGradient id="gcr5" gradientUnits="userSpaceOnUse" x1="22.4" y1="0" x2="192.8" y2="0"><stop offset="0" stop-color="#4975c2"/><stop offset="0.08" stop-color="#4371c2"/><stop offset="0.2" stop-color="#3d6ec1"/><stop offset="0.35" stop-color="#396bbf"/><stop offset="0.5" stop-color="#3669be"/><stop offset="0.62" stop-color="#3467bd"/><stop offset="0.75" stop-color="#3266bc"/><stop offset="0.88" stop-color="#3064bb"/><stop offset="1" stop-color="#2e63ba"/></linearGradient>
<polygon points="22.4,229.6 22.6,229.6 44.3,221.0 50.0,218.5 62.0,213.1 73.0,207.8 80.0,204.2 81.7,203.4 100.0,198.2 105.0,197.0 130.0,191.1 160.0,184.0 192.8,176.2 192.8,298.4 160.0,287.5 130.0,277.0 105.0,268.8 100.0,266.8 81.7,259.5 80.0,258.8 73.0,255.5 62.0,250.5 50.0,245.0 44.3,241.9 22.6,230.1 22.4,230.1" fill="url(#gcr5)"/>
<linearGradient id="gcr6" gradientUnits="userSpaceOnUse" x1="22.4" y1="0" x2="192.8" y2="0"><stop offset="0" stop-color="#4975c2"/><stop offset="0.08" stop-color="#4573c2"/><stop offset="0.2" stop-color="#4271c1"/><stop offset="0.35" stop-color="#3e6ec1"/><stop offset="0.5" stop-color="#3b6cc0"/><stop offset="0.62" stop-color="#396bc0"/><stop offset="0.75" stop-color="#386abf"/><stop offset="0.88" stop-color="#376abe"/><stop offset="1" stop-color="#3669be"/></linearGradient>
<polygon points="22.4,229.6 22.6,229.6 44.3,221.8 50.0,219.5 62.0,214.6 73.0,209.7 80.0,206.4 81.7,205.6 100.0,200.9 105.0,199.9 130.0,194.5 160.0,188.1 192.8,181.1 192.8,298.4 160.0,287.5 130.0,277.0 105.0,268.8 100.0,266.8 81.7,259.5 80.0,258.8 73.0,255.5 62.0,250.5 50.0,245.0 44.3,241.9 22.6,230.1 22.4,230.1" fill="url(#gcr6)"/>
<linearGradient id="gcr7" gradientUnits="userSpaceOnUse" x1="22.4" y1="0" x2="192.8" y2="0"><stop offset="0" stop-color="#4975c2"/><stop offset="0.08" stop-color="#4874c2"/><stop offset="0.2" stop-color="#4774c2"/><stop offset="0.35" stop-color="#4673c2"/><stop offset="0.5" stop-color="#4572c2"/><stop offset="0.62" stop-color="#4472c2"/><stop offset="0.75" stop-color="#4372c2"/><stop offset="0.88" stop-color="#4371c1"/><stop offset="1" stop-color="#4271c1"/></linearGradient>
<polygon points="22.4,229.6 22.6,229.6 44.3,222.6 50.0,220.6 62.0,216.0 73.0,211.5 80.0,208.6 81.7,207.8 100.0,203.7 105.0,202.7 130.0,197.9 160.0,192.2 192.8,185.9 192.8,298.4 160.0,287.5 130.0,277.0 105.0,268.8 100.0,266.8 81.7,259.5 80.0,258.8 73.0,255.5 62.0,250.5 50.0,245.0 44.3,241.9 22.6,230.1 22.4,230.1" fill="url(#gcr7)"/>
<linearGradient id="gcr8" gradientUnits="userSpaceOnUse" x1="22.4" y1="0" x2="192.8" y2="0"><stop offset="0" stop-color="#4975c2"/><stop offset="0.08" stop-color="#4b76c3"/><stop offset="0.2" stop-color="#4c77c3"/><stop offset="0.35" stop-color="#4e78c3"/><stop offset="0.5" stop-color="#5079c4"/><stop offset="0.62" stop-color="#5179c4"/><stop offset="0.75" stop-color="#527ac4"/><stop offset="0.88" stop-color="#537bc4"/><stop offset="1" stop-color="#547bc4"/></linearGradient>
<polygon points="22.4,229.6 22.6,229.6 44.3,223.5 50.0,221.6 62.0,217.5 73.0,213.4 80.0,210.7 81.7,210.0 100.0,206.4 105.0,205.6 130.0,201.3 160.0,196.4 192.8,190.8 192.8,298.4 160.0,287.5 130.0,277.0 105.0,268.8 100.0,266.8 81.7,259.5 80.0,258.8 73.0,255.5 62.0,250.5 50.0,245.0 44.3,241.9 22.6,230.1 22.4,230.1" fill="url(#gcr8)"/>
<linearGradient id="gcr9" gradientUnits="userSpaceOnUse" x1="22.4" y1="0" x2="192.8" y2="0"><stop offset="0" stop-color="#4975c2"/><stop offset="0.08" stop-color="#4e78c3"/><stop offset="0.2" stop-color="#537ac4"/><stop offset="0.35" stop-color="#587dc5"/><stop offset="0.5" stop-color="#5c80c6"/><stop offset="0.62" stop-color="#6082c6"/><stop offset="0.75" stop-color="#6384c7"/><stop offset="0.88" stop-color="#6786c7"/><stop offset="1" stop-color="#6a88c8"/></linearGradient>
<polygon points="22.4,229.6 22.6,229.6 44.3,224.3 50.0,222.7 62.0,219.0 73.0,215.3 80.0,212.9 81.7,212.3 100.0,209.1 105.0,208.4 130.0,204.8 160.0,200.5 192.8,195.7 192.8,298.4 160.0,287.5 130.0,277.0 105.0,268.8 100.0,266.8 81.7,259.5 80.0,258.8 73.0,255.5 62.0,250.5 50.0,245.0 44.3,241.9 22.6,230.1 22.4,230.1" fill="url(#gcr9)"/>
<linearGradient id="gcr10" gradientUnits="userSpaceOnUse" x1="22.4" y1="0" x2="192.8" y2="0"><stop offset="0" stop-color="#4975c2"/><stop offset="0.08" stop-color="#517ac4"/><stop offset="0.2" stop-color="#597ec5"/><stop offset="0.35" stop-color="#6283c7"/><stop offset="0.5" stop-color="#6a88c8"/><stop offset="0.62" stop-color="#6f8dca"/><stop offset="0.75" stop-color="#7592cc"/><stop offset="0.88" stop-color="#7a96ce"/><stop offset="1" stop-color="#7f9bcf"/></linearGradient>
<polygon points="22.4,229.6 22.6,229.6 44.3,225.1 50.0,223.7 62.0,220.5 73.0,217.2 80.0,215.0 81.7,214.5 100.0,211.8 105.0,211.3 130.0,208.2 160.0,204.6 192.8,200.6 192.8,298.4 160.0,287.5 130.0,277.0 105.0,268.8 100.0,266.8 81.7,259.5 80.0,258.8 73.0,255.5 62.0,250.5 50.0,245.0 44.3,241.9 22.6,230.1 22.4,230.1" fill="url(#gcr10)"/>
<linearGradient id="gcr11" gradientUnits="userSpaceOnUse" x1="22.4" y1="0" x2="192.8" y2="0"><stop offset="0" stop-color="#4975c2"/><stop offset="0.08" stop-color="#557cc4"/><stop offset="0.2" stop-color="#6082c6"/><stop offset="0.35" stop-color="#6d8ac9"/><stop offset="0.5" stop-color="#7793cd"/><stop offset="0.62" stop-color="#7f9acf"/><stop offset="0.75" stop-color="#87a1d2"/><stop offset="0.88" stop-color="#8fa8d5"/><stop offset="1" stop-color="#96aed7"/></linearGradient>
<polygon points="22.4,229.6 22.6,229.6 44.3,225.9 50.0,224.7 62.0,221.9 73.0,219.1 80.0,217.2 81.7,216.7 100.0,214.6 105.0,214.1 130.0,211.6 160.0,208.7 192.8,205.4 192.8,298.4 160.0,287.5 130.0,277.0 105.0,268.8 100.0,266.8 81.7,259.5 80.0,258.8 73.0,255.5 62.0,250.5 50.0,245.0 44.3,241.9 22.6,230.1 22.4,230.1" fill="url(#gcr11)"/>
<linearGradient id="gcr12" gradientUnits="userSpaceOnUse" x1="22.4" y1="0" x2="192.8" y2="0"><stop offset="0" stop-color="#4975c2"/><stop offset="0.08" stop-color="#597ec5"/><stop offset="0.2" stop-color="#6887c8"/><stop offset="0.35" stop-color="#7894cd"/><stop offset="0.5" stop-color="#86a0d2"/><stop offset="0.62" stop-color="#90a9d5"/><stop offset="0.75" stop-color="#99b1d9"/><stop offset="0.88" stop-color="#9eb7db"/><stop offset="1" stop-color="#a3bcdd"/></linearGradient>
<polygon points="22.4,229.6 22.6,229.6 44.3,226.7 50.0,225.8 62.0,223.4 73.0,221.0 80.0,219.4 81.7,218.9 100.0,217.3 105.0,217.0 130.0,215.0 160.0,212.8 192.8,210.3 192.8,298.4 160.0,287.5 130.0,277.0 105.0,268.8 100.0,266.8 81.7,259.5 80.0,258.8 73.0,255.5 62.0,250.5 50.0,245.0 44.3,241.9 22.6,230.1 22.4,230.1" fill="url(#gcr12)"/>
<linearGradient id="gcr13" gradientUnits="userSpaceOnUse" x1="22.4" y1="0" x2="192.8" y2="0"><stop offset="0" stop-color="#4975c2"/><stop offset="0.08" stop-color="#5d80c6"/><stop offset="0.2" stop-color="#708dca"/><stop offset="0.35" stop-color="#839ed1"/><stop offset="0.5" stop-color="#95add7"/><stop offset="0.62" stop-color="#9db5da"/><stop offset="0.75" stop-color="#a3bcdd"/><stop offset="0.88" stop-color="#aac4e0"/><stop offset="1" stop-color="#b2cae1"/></linearGradient>
<polygon points="22.4,229.6 22.6,229.6 44.3,227.5 50.0,226.8 62.0,224.9 73.0,222.9 80.0,221.5 81.7,221.2 100.0,220.0 105.0,219.8 130.0,218.4 160.0,216.9 192.8,215.2 192.8,298.4 160.0,287.5 130.0,277.0 105.0,268.8 100.0,266.8 81.7,259.5 80.0,258.8 73.0,255.5 62.0,250.5 50.0,245.0 44.3,241.9 22.6,230.1 22.4,230.1" fill="url(#gcr13)"/>
<linearGradient id="gcr14" gradientUnits="userSpaceOnUse" x1="22.4" y1="0" x2="192.8" y2="0"><stop offset="0" stop-color="#4975c2"/><stop offset="0.08" stop-color="#6183c6"/><stop offset="0.2" stop-color="#7894cd"/><stop offset="0.35" stop-color="#8fa8d5"/><stop offset="0.5" stop-color="#9eb6db"/><stop offset="0.62" stop-color="#a5bfde"/><stop offset="0.75" stop-color="#aec8e2"/><stop offset="0.88" stop-color="#bbd0de"/><stop offset="1" stop-color="#c8d7da"/></linearGradient>
<polygon points="22.4,229.6 22.6,229.6 44.3,228.3 50.0,227.9 62.0,226.4 73.0,224.8 80.0,223.7 81.7,223.4 100.0,222.7 105.0,222.7 130.0,221.8 160.0,221.1 192.8,220.0 192.8,298.4 160.0,287.5 130.0,277.0 105.0,268.8 100.0,266.8 81.7,259.5 80.0,258.8 73.0,255.5 62.0,250.5 50.0,245.0 44.3,241.9 22.6,230.1 22.4,230.1" fill="url(#gcr14)"/>
<linearGradient id="gcr15" gradientUnits="userSpaceOnUse" x1="22.4" y1="0" x2="192.8" y2="0"><stop offset="0" stop-color="#4975c2"/><stop offset="0.08" stop-color="#6485c7"/><stop offset="0.2" stop-color="#7f9acf"/><stop offset="0.35" stop-color="#99b1d8"/><stop offset="0.5" stop-color="#a4bede"/><stop offset="0.62" stop-color="#adc7e2"/><stop offset="0.75" stop-color="#bcd0de"/><stop offset="0.88" stop-color="#cedbd9"/><stop offset="1" stop-color="#e2e3cb"/></linearGradient>
<polygon points="22.4,229.6 22.6,229.6 44.3,229.2 50.0,228.9 62.0,227.8 73.0,226.7 80.0,225.8 81.7,225.6 100.0,225.4 105.0,225.5 130.0,225.3 160.0,225.2 192.8,224.9 192.8,298.4 160.0,287.5 130.0,277.0 105.0,268.8 100.0,266.8 81.7,259.5 80.0,258.8 73.0,255.5 62.0,250.5 50.0,245.0 44.3,241.9 22.6,230.1 22.4,230.1" fill="url(#gcr15)"/>
<linearGradient id="gcr16" gradientUnits="userSpaceOnUse" x1="22.4" y1="0" x2="192.8" y2="0"><stop offset="0" stop-color="#4975c2"/><stop offset="0.08" stop-color="#6887c8"/><stop offset="0.2" stop-color="#859fd1"/><stop offset="0.35" stop-color="#9db6da"/><stop offset="0.5" stop-color="#aac4e0"/><stop offset="0.62" stop-color="#b7cddf"/><stop offset="0.75" stop-color="#c9d8da"/><stop offset="0.88" stop-color="#e3e3ca"/><stop offset="1" stop-color="#f2eabb"/></linearGradient>
<polygon points="22.4,229.6 22.6,229.6 44.3,230.0 50.0,229.9 62.0,229.3 73.0,228.6 80.0,228.0 81.7,227.8 100.0,228.2 105.0,228.4 130.0,228.7 160.0,229.3 192.8,229.8 192.8,298.4 160.0,287.5 130.0,277.0 105.0,268.8 100.0,266.8 81.7,259.5 80.0,258.8 73.0,255.5 62.0,250.5 50.0,245.0 44.3,241.9 22.6,230.1 22.4,230.1" fill="url(#gcr16)"/>
<linearGradient id="gcr17" gradientUnits="userSpaceOnUse" x1="22.4" y1="0" x2="192.8" y2="0"><stop offset="0" stop-color="#4975c2"/><stop offset="0.08" stop-color="#6a88c8"/><stop offset="0.2" stop-color="#8aa4d3"/><stop offset="0.35" stop-color="#a1badc"/><stop offset="0.5" stop-color="#b0c9e1"/><stop offset="0.62" stop-color="#bfd2dd"/><stop offset="0.75" stop-color="#d7dfd3"/><stop offset="0.88" stop-color="#f1e9bd"/><stop offset="1" stop-color="#f9f1ac"/></linearGradient>
<polygon points="22.4,229.6 22.6,229.6 44.3,230.8 50.0,231.0 62.0,230.8 73.0,230.5 80.0,230.2 81.7,230.1 100.0,230.9 105.0,231.2 130.0,232.1 160.0,233.4 192.8,234.6 192.8,298.4 160.0,287.5 130.0,277.0 105.0,268.8 100.0,266.8 81.7,259.5 80.0,258.8 73.0,255.5 62.0,250.5 50.0,245.0 44.3,241.9 22.6,230.1 22.4,230.1" fill="url(#gcr17)"/>
<linearGradient id="gcr18" gradientUnits="userSpaceOnUse" x1="22.4" y1="0" x2="192.8" y2="0"><stop offset="0" stop-color="#4975c2"/><stop offset="0.08" stop-color="#6c8ac9"/><stop offset="0.2" stop-color="#8da6d4"/><stop offset="0.35" stop-color="#a3bcdd"/><stop offset="0.5" stop-color="#b4cbe0"/><stop offset="0.62" stop-color="#c3d5dc"/><stop offset="0.75" stop-color="#e2e2cb"/><stop offset="0.88" stop-color="#f5edb5"/><stop offset="1" stop-color="#fdf591"/></linearGradient>
<polygon points="22.4,229.6 22.6,229.6 44.3,231.6 50.0,232.0 62.0,232.3 73.0,232.3 80.0,232.3 81.7,232.3 100.0,233.6 105.0,234.1 130.0,235.5 160.0,237.5 192.8,239.5 192.8,298.4 160.0,287.5 130.0,277.0 105.0,268.8 100.0,266.8 81.7,259.5 80.0,258.8 73.0,255.5 62.0,250.5 50.0,245.0 44.3,241.9 22.6,230.1 22.4,230.1" fill="url(#gcr18)"/>
<linearGradient id="gcr19" gradientUnits="userSpaceOnUse" x1="22.4" y1="0" x2="192.8" y2="0"><stop offset="0" stop-color="#4975c2"/><stop offset="0.08" stop-color="#6d8bc9"/><stop offset="0.2" stop-color="#90a9d5"/><stop offset="0.35" stop-color="#a5bfde"/><stop offset="0.5" stop-color="#b7cedf"/><stop offset="0.62" stop-color="#c8d7da"/><stop offset="0.75" stop-color="#ede7c3"/><stop offset="0.88" stop-color="#f9f1a9"/><stop offset="1" stop-color="#fef973"/></linearGradient>
<polygon points="22.4,229.6 22.6,229.6 44.3,232.4 50.0,233.1 62.0,233.8 73.0,234.2 80.0,234.5 81.7,234.5 100.0,236.3 105.0,236.9 130.0,238.9 160.0,241.7 192.8,244.4 192.8,298.4 160.0,287.5 130.0,277.0 105.0,268.8 100.0,266.8 81.7,259.5 80.0,258.8 73.0,255.5 62.0,250.5 50.0,245.0 44.3,241.9 22.6,230.1 22.4,230.1" fill="url(#gcr19)"/>
<linearGradient id="gcr20" gradientUnits="userSpaceOnUse" x1="22.4" y1="0" x2="192.8" y2="0"><stop offset="0" stop-color="#4975c2"/><stop offset="0.08" stop-color="#6f8cca"/><stop offset="0.2" stop-color="#93abd6"/><stop offset="0.35" stop-color="#a8c1df"/><stop offset="0.5" stop-color="#bbd0de"/><stop offset="0.62" stop-color="#cddad9"/><stop offset="0.75" stop-color="#f0e9bf"/><stop offset="0.88" stop-color="#fbf39b"/><stop offset="1" stop-color="#fffb66"/></linearGradient>
<polygon points="22.4,229.6 22.6,229.6 44.3,233.2 50.0,234.1 62.0,235.2 73.0,236.1 80.0,236.7 81.7,236.7 100.0,239.1 105.0,239.8 130.0,242.4 160.0,245.8 192.8,249.2 192.8,298.4 160.0,287.5 130.0,277.0 105.0,268.8 100.0,266.8 81.7,259.5 80.0,258.8 73.0,255.5 62.0,250.5 50.0,245.0 44.3,241.9 22.6,230.1 22.4,230.1" fill="url(#gcr20)"/>
<linearGradient id="gcr21" gradientUnits="userSpaceOnUse" x1="22.4" y1="0" x2="192.8" y2="0"><stop offset="0" stop-color="#4975c2"/><stop offset="0.08" stop-color="#708dca"/><stop offset="0.2" stop-color="#95aed7"/><stop offset="0.35" stop-color="#a9c3e0"/><stop offset="0.5" stop-color="#bed2dd"/><stop offset="0.62" stop-color="#d1dcd7"/><stop offset="0.75" stop-color="#f1eabd"/><stop offset="0.88" stop-color="#fdf593"/><stop offset="1" stop-color="#fffb66"/></linearGradient>
<polygon points="22.4,229.6 22.6,229.6 44.3,234.1 50.0,235.2 62.0,236.7 73.0,238.0 80.0,238.8 81.7,239.0 100.0,241.8 105.0,242.6 130.0,245.8 160.0,249.9 192.8,254.1 192.8,298.4 160.0,287.5 130.0,277.0 105.0,268.8 100.0,266.8 81.7,259.5 80.0,258.8 73.0,255.5 62.0,250.5 50.0,245.0 44.3,241.9 22.6,230.1 22.4,230.1" fill="url(#gcr21)"/>
<linearGradient id="gcr22" gradientUnits="userSpaceOnUse" x1="22.4" y1="0" x2="192.8" y2="0"><stop offset="0" stop-color="#4975c2"/><stop offset="0.08" stop-color="#708dca"/><stop offset="0.2" stop-color="#95aed7"/><stop offset="0.35" stop-color="#a9c3e0"/><stop offset="0.5" stop-color="#bed2dd"/><stop offset="0.62" stop-color="#d1dcd7"/><stop offset="0.75" stop-color="#f1eabd"/><stop offset="0.88" stop-color="#fcf495"/><stop offset="1" stop-color="#fffb66"/></linearGradient>
<polygon points="22.4,229.6 22.6,229.6 44.3,234.9 50.0,236.2 62.0,238.2 73.0,239.9 80.0,241.0 81.7,241.2 100.0,244.5 105.0,245.5 130.0,249.2 160.0,254.0 192.8,259.0 192.8,298.4 160.0,287.5 130.0,277.0 105.0,268.8 100.0,266.8 81.7,259.5 80.0,258.8 73.0,255.5 62.0,250.5 50.0,245.0 44.3,241.9 22.6,230.1 22.4,230.1" fill="url(#gcr22)"/>
<linearGradient id="gcr23" gradientUnits="userSpaceOnUse" x1="22.4" y1="0" x2="192.8" y2="0"><stop offset="0" stop-color="#4975c2"/><stop offset="0.08" stop-color="#708dca"/><stop offset="0.2" stop-color="#95aed7"/><stop offset="0.35" stop-color="#a9c3e0"/><stop offset="0.5" stop-color="#bed2dd"/><stop offset="0.62" stop-color="#d1dcd8"/><stop offset="0.75" stop-color="#f0e9be"/><stop offset="0.88" stop-color="#fbf39d"/><stop offset="1" stop-color="#fffb66"/></linearGradient>
<polygon points="22.4,229.6 22.6,229.6 44.3,235.7 50.0,237.2 62.0,239.7 73.0,241.8 80.0,243.1 81.7,243.4 100.0,247.2 105.0,248.3 130.0,252.6 160.0,258.1 192.8,263.9 192.8,298.4 160.0,287.5 130.0,277.0 105.0,268.8 100.0,266.8 81.7,259.5 80.0,258.8 73.0,255.5 62.0,250.5 50.0,245.0 44.3,241.9 22.6,230.1 22.4,230.1" fill="url(#gcr23)"/>
<linearGradient id="gcr24" gradientUnits="userSpaceOnUse" x1="22.4" y1="0" x2="192.8" y2="0"><stop offset="0" stop-color="#4975c2"/><stop offset="0.08" stop-color="#708dca"/><stop offset="0.2" stop-color="#95add7"/><stop offset="0.35" stop-color="#a9c3e0"/><stop offset="0.5" stop-color="#bed1dd"/><stop offset="0.62" stop-color="#d0dcd8"/><stop offset="0.75" stop-color="#efe8c0"/><stop offset="0.88" stop-color="#f9f1a9"/><stop offset="1" stop-color="#fef879"/></linearGradient>
<polygon points="22.4,229.6 22.6,229.6 44.3,236.5 50.0,238.3 62.0,241.1 73.0,243.7 80.0,245.3 81.7,245.7 100.0,250.0 105.0,251.2 130.0,256.0 160.0,262.2 192.8,268.7 192.8,298.4 160.0,287.5 130.0,277.0 105.0,268.8 100.0,266.8 81.7,259.5 80.0,258.8 73.0,255.5 62.0,250.5 50.0,245.0 44.3,241.9 22.6,230.1 22.4,230.1" fill="url(#gcr24)"/>
<linearGradient id="gcr25" gradientUnits="userSpaceOnUse" x1="22.4" y1="0" x2="192.8" y2="0"><stop offset="0" stop-color="#4975c2"/><stop offset="0.08" stop-color="#6f8cca"/><stop offset="0.2" stop-color="#93acd6"/><stop offset="0.35" stop-color="#a8c1df"/><stop offset="0.5" stop-color="#bcd0de"/><stop offset="0.62" stop-color="#cddad9"/><stop offset="0.75" stop-color="#eae5c5"/><stop offset="0.88" stop-color="#f6eeb4"/><stop offset="1" stop-color="#fcf494"/></linearGradient>
<polygon points="22.4,229.6 22.6,229.6 44.3,237.3 50.0,239.3 62.0,242.6 73.0,245.6 80.0,247.5 81.7,247.9 100.0,252.7 105.0,254.0 130.0,259.4 160.0,266.4 192.8,273.6 192.8,298.4 160.0,287.5 130.0,277.0 105.0,268.8 100.0,266.8 81.7,259.5 80.0,258.8 73.0,255.5 62.0,250.5 50.0,245.0 44.3,241.9 22.6,230.1 22.4,230.1" fill="url(#gcr25)"/>
<linearGradient id="gcr26" gradientUnits="userSpaceOnUse" x1="22.4" y1="0" x2="192.8" y2="0"><stop offset="0" stop-color="#4975c2"/><stop offset="0.08" stop-color="#6e8bc9"/><stop offset="0.2" stop-color="#91aad6"/><stop offset="0.35" stop-color="#a6c0df"/><stop offset="0.5" stop-color="#b9cfdf"/><stop offset="0.62" stop-color="#cad8da"/><stop offset="0.75" stop-color="#e1e2cb"/><stop offset="0.88" stop-color="#f2eabb"/><stop offset="1" stop-color="#f9f1ac"/></linearGradient>
<polygon points="22.4,229.6 22.6,229.6 44.3,238.1 50.0,240.4 62.0,244.1 73.0,247.5 80.0,249.6 81.7,250.1 100.0,255.4 105.0,256.9 130.0,262.9 160.0,270.5 192.8,278.5 192.8,298.4 160.0,287.5 130.0,277.0 105.0,268.8 100.0,266.8 81.7,259.5 80.0,258.8 73.0,255.5 62.0,250.5 50.0,245.0 44.3,241.9 22.6,230.1 22.4,230.1" fill="url(#gcr26)"/>
<linearGradient id="gcr27" gradientUnits="userSpaceOnUse" x1="22.4" y1="0" x2="192.8" y2="0"><stop offset="0" stop-color="#4975c2"/><stop offset="0.08" stop-color="#6d8bc9"/><stop offset="0.2" stop-color="#90a9d5"/><stop offset="0.35" stop-color="#a5bfde"/><stop offset="0.5" stop-color="#b7cedf"/><stop offset="0.62" stop-color="#c7d7db"/><stop offset="0.75" stop-color="#dbe0d0"/><stop offset="0.88" stop-color="#efe8c0"/><stop offset="1" stop-color="#f4edb7"/></linearGradient>
<polygon points="22.4,229.6 22.6,229.6 44.3,238.9 50.0,241.4 62.0,245.6 73.0,249.4 80.0,251.8 81.7,252.3 100.0,258.1 105.0,259.7 130.0,266.3 160.0,274.6 192.8,283.3 192.8,298.4 160.0,287.5 130.0,277.0 105.0,268.8 100.0,266.8 81.7,259.5 80.0,258.8 73.0,255.5 62.0,250.5 50.0,245.0 44.3,241.9 22.6,230.1 22.4,230.1" fill="url(#gcr27)"/>
<linearGradient id="gcr28" gradientUnits="userSpaceOnUse" x1="22.4" y1="0" x2="192.8" y2="0"><stop offset="0" stop-color="#4975c2"/><stop offset="0.08" stop-color="#6d8bc9"/><stop offset="0.2" stop-color="#8fa8d5"/><stop offset="0.35" stop-color="#a5bede"/><stop offset="0.5" stop-color="#b6cde0"/><stop offset="0.62" stop-color="#c6d6db"/><stop offset="0.75" stop-color="#d8dfd2"/><stop offset="0.88" stop-color="#ece6c4"/><stop offset="1" stop-color="#f1eabc"/></linearGradient>
<polygon points="22.4,229.6 22.6,229.6 44.3,239.8 50.0,242.4 62.0,247.0 73.0,251.3 80.0,254.0 81.7,254.6 100.0,260.9 105.0,262.6 130.0,269.7 160.0,278.7 192.8,288.2 192.8,298.4 160.0,287.5 130.0,277.0 105.0,268.8 100.0,266.8 81.7,259.5 80.0,258.8 73.0,255.5 62.0,250.5 50.0,245.0 44.3,241.9 22.6,230.1 22.4,230.1" fill="url(#gcr28)"/>
<linearGradient id="gcr29" gradientUnits="userSpaceOnUse" x1="22.4" y1="0" x2="192.8" y2="0"><stop offset="0" stop-color="#4975c2"/><stop offset="0.08" stop-color="#6d8ac9"/><stop offset="0.2" stop-color="#8ea8d5"/><stop offset="0.35" stop-color="#a4bdde"/><stop offset="0.5" stop-color="#b6cce0"/><stop offset="0.62" stop-color="#c5d6db"/><stop offset="0.75" stop-color="#d6ded4"/><stop offset="0.88" stop-color="#e7e4c7"/><stop offset="1" stop-color="#f0e8bf"/></linearGradient>
<polygon points="22.4,229.6 22.6,229.6 44.3,240.6 50.0,243.5 62.0,248.5 73.0,253.1 80.0,256.1 81.7,256.8 100.0,263.6 105.0,265.4 130.0,273.1 160.0,282.8 192.8,293.1 192.8,298.4 160.0,287.5 130.0,277.0 105.0,268.8 100.0,266.8 81.7,259.5 80.0,258.8 73.0,255.5 62.0,250.5 50.0,245.0 44.3,241.9 22.6,230.1 22.4,230.1" fill="url(#gcr29)"/>
</g>
<polyline points="22.6,231.1 50.0,243.0 80.0,253.5 105.0,261.5 130.0,268.1 160.0,276.5 202.8,288.3" fill="none" stroke="url(#lsa)" stroke-width="9" opacity="0.9" filter="url(#bl)"/>
</g>

<polygon points="46.3,213.3 47,211.6 54,208 61.7,203.6 66,200 71,196.8 76,194.6 80.3,193.6 85.7,193.3 85.7,194.3 83,197.2 73,203.5 62,209.8 46.3,218.2" fill="#ff0000"/>
<polygon points="64.3,207 72,202 80.3,197.4 81.5,198.4 73,203.6 64.5,208.5" fill="#a0008c"/>
<polygon points="73.7,202.4 81,197.6 82,198.6 74.2,203.2" fill="#fff"/>
<path d="M107,259.6 L130,266.6 L160,275 L177.4,280 C178.4,282.6 177.6,285 174.6,286.4 C169,288.4 158,287.4 150,285.4 C140,282.8 131,279 123.6,274.6 C116.4,270 110,264.6 107,259.6 Z" fill="#ff0000"/>
<path d="M134.6,268.2 L160,275.2 L175.4,279.6 C173,282.2 163,282.6 153,280.4 C145,278.4 138.6,274.6 134.6,268.2 Z" fill="#4400b4"/>
<path d="M137.6,269.4 L160,275.6 L173,279.4 C170,281 162,281.3 153.5,279.4 C147,277.8 141,274.4 137.6,269.4 Z" fill="#fff"/>
<path d="M143.6,271.2 L152.4,273.7 C152,276 149.6,276.8 147.6,276.2 C145.4,275.4 143.8,273.4 143.6,271.2 Z" fill="#a0008c"/>
<path d="M160.6,276 L169.4,278.6 C168,280 165.6,280.2 163.6,279.6 C162,279 160.8,277.4 160.6,276 Z" fill="#a0008c"/>

<polyline points="22.6,229.6 50.0,241.5 80.0,252.0 105.0,260.0 130.0,266.6 160.0,275.0 192.8,283.8" fill="none" stroke="#1a1a1a" stroke-width="0.58"/>
<polyline points="22.6,229.6 44.3,219.3 62.0,210.0 73.0,203.8 81.7,198.7" fill="none" stroke="#1a1a1a" stroke-width="0.58"/>
<polyline points="81.7,198.7 100.0,192.5 192.8,166.0" fill="none" stroke="#1a1a1a" stroke-width="0.7" stroke-dasharray="2.2,1.6"/>
<circle cx="81.7" cy="198.7" r="1.3" fill="#fff" stroke="#555" stroke-width="0.3"/>
<rect x="22.4" y="165.5" width="170.4" height="128.0" fill="none" stroke="#333" stroke-width="0.7"/>
</g>
<g>
<rect x="225.4" y="165.5" width="170.4" height="128.0" fill="#ff8000"/>
<polygon points="276.0,207.5 300.0,191.0 315.0,183.0 360.0,165.5 395.8,165.5 395.8,177.0 300.0,202.0" fill="url(#hatch)"/>
<polygon points="352.0,270.0 395.8,282.5 395.8,293.5 361.0,293.5 356.0,285.0" fill="url(#hatch)"/>
<clipPath id="clip_gd"><polygon points="395.8,282.5 365.0,274.2 340.0,267.0 300.0,254.3 275.0,246.2 253.0,238.9 225.6,229.6 239.0,224.3 255.0,217.6 271.0,211.0 300.0,202.0 395.8,177.0"/></clipPath>
<g clip-path="url(#clip_gd)">
<rect x="225.4" y="165.5" width="170.4" height="128.0" fill="url(#gd)"/>
<g filter="url(#bl1)">
<linearGradient id="gdr0" gradientUnits="userSpaceOnUse" x1="225.4" y1="0" x2="395.8" y2="0"><stop offset="0" stop-color="#4975c2"/><stop offset="0.08" stop-color="#3a6cc0"/><stop offset="0.2" stop-color="#3367bc"/><stop offset="0.35" stop-color="#2b61b8"/><stop offset="0.5" stop-color="#245cb5"/><stop offset="0.62" stop-color="#1f58b2"/><stop offset="0.75" stop-color="#1f58b2"/><stop offset="0.88" stop-color="#1f58b2"/><stop offset="1" stop-color="#1f58b2"/></linearGradient>
<polygon points="225.4,229.6 225.6,229.6 239.0,223.1 253.0,216.0 255.0,215.0 271.0,206.9 275.0,205.4 300.0,195.7 340.0,182.5 365.0,174.3 395.8,164.3 395.8,295.7 365.0,285.4 340.0,276.6 300.0,261.1 275.0,251.1 271.0,249.4 255.0,242.7 253.0,241.9 239.0,235.8 225.6,230.1 225.4,230.1" fill="url(#gdr0)"/>
<linearGradient id="gdr1" gradientUnits="userSpaceOnUse" x1="225.4" y1="0" x2="395.8" y2="0"><stop offset="0" stop-color="#4975c2"/><stop offset="0.08" stop-color="#3c6dc0"/><stop offset="0.2" stop-color="#3568bd"/><stop offset="0.35" stop-color="#2e63ba"/><stop offset="0.5" stop-color="#285fb7"/><stop offset="0.62" stop-color="#235bb4"/><stop offset="0.75" stop-color="#1f58b2"/><stop offset="0.88" stop-color="#1f58b2"/><stop offset="1" stop-color="#1f58b2"/></linearGradient>
<polygon points="225.4,229.6 225.6,229.6 239.0,223.5 253.0,216.8 255.0,215.9 271.0,208.3 275.0,206.9 300.0,197.9 340.0,185.6 365.0,178.0 395.8,168.7 395.8,295.7 365.0,285.4 340.0,276.6 300.0,261.1 275.0,251.1 271.0,249.4 255.0,242.7 253.0,241.9 239.0,235.8 225.6,230.1 225.4,230.1" fill="url(#gdr1)"/>
<linearGradient id="gdr2" gradientUnits="userSpaceOnUse" x1="225.4" y1="0" x2="395.8" y2="0"><stop offset="0" stop-color="#4975c2"/><stop offset="0.08" stop-color="#3e6ec1"/><stop offset="0.2" stop-color="#3669be"/><stop offset="0.35" stop-color="#3165bb"/><stop offset="0.5" stop-color="#2b61b8"/><stop offset="0.62" stop-color="#285eb6"/><stop offset="0.75" stop-color="#245bb4"/><stop offset="0.88" stop-color="#2059b2"/><stop offset="1" stop-color="#1f58b2"/></linearGradient>
<polygon points="225.4,229.6 225.6,229.6 239.0,223.9 253.0,217.7 255.0,216.8 271.0,209.7 275.0,208.4 300.0,200.0 340.0,188.7 365.0,181.7 395.8,173.1 395.8,295.7 365.0,285.4 340.0,276.6 300.0,261.1 275.0,251.1 271.0,249.4 255.0,242.7 253.0,241.9 239.0,235.8 225.6,230.1 225.4,230.1" fill="url(#gdr2)"/>
<linearGradient id="gdr3" gradientUnits="userSpaceOnUse" x1="225.4" y1="0" x2="395.8" y2="0"><stop offset="0" stop-color="#4975c2"/><stop offset="0.08" stop-color="#4270c1"/><stop offset="0.2" stop-color="#3a6cc0"/><stop offset="0.35" stop-color="#3669be"/><stop offset="0.5" stop-color="#3367bc"/><stop offset="0.62" stop-color="#3065bb"/><stop offset="0.75" stop-color="#2d63b9"/><stop offset="0.88" stop-color="#2b61b8"/><stop offset="1" stop-color="#295fb7"/></linearGradient>
<polygon points="225.4,229.6 225.6,229.6 239.0,224.3 253.0,218.5 255.0,217.7 271.0,211.1 275.0,209.9 300.0,202.2 340.0,191.9 365.0,185.4 395.8,177.4 395.8,295.7 365.0,285.4 340.0,276.6 300.0,261.1 275.0,251.1 271.0,249.4 255.0,242.7 253.0,241.9 239.0,235.8 225.6,230.1 225.4,230.1" fill="url(#gdr3)"/>
<linearGradient id="gdr4" gradientUnits="userSpaceOnUse" x1="225.4" y1="0" x2="395.8" y2="0"><stop offset="0" stop-color="#4975c2"/><stop offset="0.08" stop-color="#4673c2"/><stop offset="0.2" stop-color="#4271c1"/><stop offset="0.35" stop-color="#3f6fc1"/><stop offset="0.5" stop-color="#3c6dc0"/><stop offset="0.62" stop-color="#3a6cc0"/><stop offset="0.75" stop-color="#386bbf"/><stop offset="0.88" stop-color="#376abf"/><stop offset="1" stop-color="#3669be"/></linearGradient>
<polygon points="225.4,229.6 225.6,229.6 239.0,224.7 253.0,219.4 255.0,218.6 271.0,212.5 275.0,211.4 300.0,204.4 340.0,195.0 365.0,189.1 395.8,181.8 395.8,295.7 365.0,285.4 340.0,276.6 300.0,261.1 275.0,251.1 271.0,249.4 255.0,242.7 253.0,241.9 239.0,235.8 225.6,230.1 225.4,230.1" fill="url(#gdr4)"/>
<linearGradient id="gdr5" gradientUnits="userSpaceOnUse" x1="225.4" y1="0" x2="395.8" y2="0"><stop offset="0" stop-color="#4975c2"/><stop offset="0.08" stop-color="#4975c3"/><stop offset="0.2" stop-color="#4a75c3"/><stop offset="0.35" stop-color="#4a76c3"/><stop offset="0.5" stop-color="#4b76c3"/><stop offset="0.62" stop-color="#4b76c3"/><stop offset="0.75" stop-color="#4c76c3"/><stop offset="0.88" stop-color="#4c76c3"/><stop offset="1" stop-color="#4c77c3"/></linearGradient>
<polygon points="225.4,229.6 225.6,229.6 239.0,225.2 253.0,220.2 255.0,219.5 271.0,213.9 275.0,212.9 300.0,206.5 340.0,198.1 365.0,192.8 395.8,186.1 395.8,295.7 365.0,285.4 340.0,276.6 300.0,261.1 275.0,251.1 271.0,249.4 255.0,242.7 253.0,241.9 239.0,235.8 225.6,230.1 225.4,230.1" fill="url(#gdr5)"/>
<linearGradient id="gdr6" gradientUnits="userSpaceOnUse" x1="225.4" y1="0" x2="395.8" y2="0"><stop offset="0" stop-color="#4975c2"/><stop offset="0.08" stop-color="#4e77c3"/><stop offset="0.2" stop-color="#527ac4"/><stop offset="0.35" stop-color="#577dc5"/><stop offset="0.5" stop-color="#5b7fc5"/><stop offset="0.62" stop-color="#5e81c6"/><stop offset="0.75" stop-color="#6183c7"/><stop offset="0.88" stop-color="#6485c7"/><stop offset="1" stop-color="#6786c7"/></linearGradient>
<polygon points="225.4,229.6 225.6,229.6 239.0,225.6 253.0,221.1 255.0,220.4 271.0,215.3 275.0,214.4 300.0,208.7 340.0,201.2 365.0,196.5 395.8,190.5 395.8,295.7 365.0,285.4 340.0,276.6 300.0,261.1 275.0,251.1 271.0,249.4 255.0,242.7 253.0,241.9 239.0,235.8 225.6,230.1 225.4,230.1" fill="url(#gdr6)"/>
<linearGradient id="gdr7" gradientUnits="userSpaceOnUse" x1="225.4" y1="0" x2="395.8" y2="0"><stop offset="0" stop-color="#4975c2"/><stop offset="0.08" stop-color="#527ac4"/><stop offset="0.2" stop-color="#5a7fc5"/><stop offset="0.35" stop-color="#6384c7"/><stop offset="0.5" stop-color="#6b89c8"/><stop offset="0.62" stop-color="#708dca"/><stop offset="0.75" stop-color="#7693cc"/><stop offset="0.88" stop-color="#7c97ce"/><stop offset="1" stop-color="#819cd0"/></linearGradient>
<polygon points="225.4,229.6 225.6,229.6 239.0,226.0 253.0,221.9 255.0,221.3 271.0,216.7 275.0,215.9 300.0,210.9 340.0,204.3 365.0,200.1 395.8,194.9 395.8,295.7 365.0,285.4 340.0,276.6 300.0,261.1 275.0,251.1 271.0,249.4 255.0,242.7 253.0,241.9 239.0,235.8 225.6,230.1 225.4,230.1" fill="url(#gdr7)"/>
<linearGradient id="gdr8" gradientUnits="userSpaceOnUse" x1="225.4" y1="0" x2="395.8" y2="0"><stop offset="0" stop-color="#4975c2"/><stop offset="0.08" stop-color="#557cc5"/><stop offset="0.2" stop-color="#6283c7"/><stop offset="0.35" stop-color="#6e8cca"/><stop offset="0.5" stop-color="#7a96cd"/><stop offset="0.62" stop-color="#829dd0"/><stop offset="0.75" stop-color="#8aa4d3"/><stop offset="0.88" stop-color="#93abd6"/><stop offset="1" stop-color="#99b1d8"/></linearGradient>
<polygon points="225.4,229.6 225.6,229.6 239.0,226.4 253.0,222.7 255.0,222.2 271.0,218.1 275.0,217.4 300.0,213.0 340.0,207.5 365.0,203.8 395.8,199.2 395.8,295.7 365.0,285.4 340.0,276.6 300.0,261.1 275.0,251.1 271.0,249.4 255.0,242.7 253.0,241.9 239.0,235.8 225.6,230.1 225.4,230.1" fill="url(#gdr8)"/>
<linearGradient id="gdr9" gradientUnits="userSpaceOnUse" x1="225.4" y1="0" x2="395.8" y2="0"><stop offset="0" stop-color="#4975c2"/><stop offset="0.08" stop-color="#5a7ec5"/><stop offset="0.2" stop-color="#6a88c8"/><stop offset="0.35" stop-color="#7a96ce"/><stop offset="0.5" stop-color="#89a3d3"/><stop offset="0.62" stop-color="#94add7"/><stop offset="0.75" stop-color="#9cb4da"/><stop offset="0.88" stop-color="#a1badc"/><stop offset="1" stop-color="#a6bfde"/></linearGradient>
<polygon points="225.4,229.6 225.6,229.6 239.0,226.8 253.0,223.6 255.0,223.1 271.0,219.5 275.0,218.9 300.0,215.2 340.0,210.6 365.0,207.5 395.8,203.6 395.8,295.7 365.0,285.4 340.0,276.6 300.0,261.1 275.0,251.1 271.0,249.4 255.0,242.7 253.0,241.9 239.0,235.8 225.6,230.1 225.4,230.1" fill="url(#gdr9)"/>
<linearGradient id="gdr10" gradientUnits="userSpaceOnUse" x1="225.4" y1="0" x2="395.8" y2="0"><stop offset="0" stop-color="#4975c2"/><stop offset="0.08" stop-color="#5e81c6"/><stop offset="0.2" stop-color="#728fcb"/><stop offset="0.35" stop-color="#86a1d2"/><stop offset="0.5" stop-color="#98b0d8"/><stop offset="0.62" stop-color="#9fb7db"/><stop offset="0.75" stop-color="#a6bfde"/><stop offset="0.88" stop-color="#acc6e1"/><stop offset="1" stop-color="#b4cbe0"/></linearGradient>
<polygon points="225.4,229.6 225.6,229.6 239.0,227.2 253.0,224.4 255.0,224.0 271.0,220.9 275.0,220.4 300.0,217.3 340.0,213.7 365.0,211.2 395.8,207.9 395.8,295.7 365.0,285.4 340.0,276.6 300.0,261.1 275.0,251.1 271.0,249.4 255.0,242.7 253.0,241.9 239.0,235.8 225.6,230.1 225.4,230.1" fill="url(#gdr10)"/>
<linearGradient id="gdr11" gradientUnits="userSpaceOnUse" x1="225.4" y1="0" x2="395.8" y2="0"><stop offset="0" stop-color="#4975c2"/><stop offset="0.08" stop-color="#6283c7"/><stop offset="0.2" stop-color="#7995cd"/><stop offset="0.35" stop-color="#92abd6"/><stop offset="0.5" stop-color="#a0b8db"/><stop offset="0.62" stop-color="#a7c1df"/><stop offset="0.75" stop-color="#b0c9e1"/><stop offset="0.88" stop-color="#bcd0de"/><stop offset="1" stop-color="#c6d6db"/></linearGradient>
<polygon points="225.4,229.6 225.6,229.6 239.0,227.6 253.0,225.3 255.0,225.0 271.0,222.3 275.0,222.0 300.0,219.5 340.0,216.8 365.0,214.9 395.8,212.3 395.8,295.7 365.0,285.4 340.0,276.6 300.0,261.1 275.0,251.1 271.0,249.4 255.0,242.7 253.0,241.9 239.0,235.8 225.6,230.1 225.4,230.1" fill="url(#gdr11)"/>
<linearGradient id="gdr12" gradientUnits="userSpaceOnUse" x1="225.4" y1="0" x2="395.8" y2="0"><stop offset="0" stop-color="#4975c2"/><stop offset="0.08" stop-color="#6585c7"/><stop offset="0.2" stop-color="#809bcf"/><stop offset="0.35" stop-color="#9ab2d9"/><stop offset="0.5" stop-color="#a5bfde"/><stop offset="0.62" stop-color="#aec8e2"/><stop offset="0.75" stop-color="#bcd0de"/><stop offset="0.88" stop-color="#cad8da"/><stop offset="1" stop-color="#d7dfd3"/></linearGradient>
<polygon points="225.4,229.6 225.6,229.6 239.0,228.0 253.0,226.1 255.0,225.9 271.0,223.7 275.0,223.5 300.0,221.7 340.0,219.9 365.0,218.6 395.8,216.7 395.8,295.7 365.0,285.4 340.0,276.6 300.0,261.1 275.0,251.1 271.0,249.4 255.0,242.7 253.0,241.9 239.0,235.8 225.6,230.1 225.4,230.1" fill="url(#gdr12)"/>
<linearGradient id="gdr13" gradientUnits="userSpaceOnUse" x1="225.4" y1="0" x2="395.8" y2="0"><stop offset="0" stop-color="#4975c2"/><stop offset="0.08" stop-color="#6887c8"/><stop offset="0.2" stop-color="#85a0d1"/><stop offset="0.35" stop-color="#9eb6db"/><stop offset="0.5" stop-color="#abc4e1"/><stop offset="0.62" stop-color="#b7cddf"/><stop offset="0.75" stop-color="#c7d7db"/><stop offset="0.88" stop-color="#d9dfd1"/><stop offset="1" stop-color="#ece6c3"/></linearGradient>
<polygon points="225.4,229.6 225.6,229.6 239.0,228.4 253.0,227.0 255.0,226.8 271.0,225.1 275.0,225.0 300.0,223.8 340.0,223.0 365.0,222.2 395.8,221.0 395.8,295.7 365.0,285.4 340.0,276.6 300.0,261.1 275.0,251.1 271.0,249.4 255.0,242.7 253.0,241.9 239.0,235.8 225.6,230.1 225.4,230.1" fill="url(#gdr13)"/>
<linearGradient id="gdr14" gradientUnits="userSpaceOnUse" x1="225.4" y1="0" x2="395.8" y2="0"><stop offset="0" stop-color="#4975c2"/><stop offset="0.08" stop-color="#6a88c8"/><stop offset="0.2" stop-color="#8aa4d3"/><stop offset="0.35" stop-color="#a1badc"/><stop offset="0.5" stop-color="#b0c9e2"/><stop offset="0.62" stop-color="#bfd2dd"/><stop offset="0.75" stop-color="#d2ddd6"/><stop offset="0.88" stop-color="#ebe6c4"/><stop offset="1" stop-color="#f2ebba"/></linearGradient>
<polygon points="225.4,229.6 225.6,229.6 239.0,228.8 253.0,227.8 255.0,227.7 271.0,226.5 275.0,226.5 300.0,226.0 340.0,226.2 365.0,225.9 395.8,225.4 395.8,295.7 365.0,285.4 340.0,276.6 300.0,261.1 275.0,251.1 271.0,249.4 255.0,242.7 253.0,241.9 239.0,235.8 225.6,230.1 225.4,230.1" fill="url(#gdr14)"/>
<linearGradient id="gdr15" gradientUnits="userSpaceOnUse" x1="225.4" y1="0" x2="395.8" y2="0"><stop offset="0" stop-color="#4975c2"/><stop offset="0.08" stop-color="#6c89c9"/><stop offset="0.2" stop-color="#8ca6d4"/><stop offset="0.35" stop-color="#a3bcdd"/><stop offset="0.5" stop-color="#b3cbe1"/><stop offset="0.62" stop-color="#c3d4dc"/><stop offset="0.75" stop-color="#dbe0d0"/><stop offset="0.88" stop-color="#f1eabd"/><stop offset="1" stop-color="#f8f0af"/></linearGradient>
<polygon points="225.4,229.6 225.6,229.6 239.0,229.2 253.0,228.7 255.0,228.6 271.0,227.9 275.0,228.0 300.0,228.2 340.0,229.3 365.0,229.6 395.8,229.8 395.8,295.7 365.0,285.4 340.0,276.6 300.0,261.1 275.0,251.1 271.0,249.4 255.0,242.7 253.0,241.9 239.0,235.8 225.6,230.1 225.4,230.1" fill="url(#gdr15)"/>
<linearGradient id="gdr16" gradientUnits="userSpaceOnUse" x1="225.4" y1="0" x2="395.8" y2="0"><stop offset="0" stop-color="#4975c2"/><stop offset="0.08" stop-color="#6d8ac9"/><stop offset="0.2" stop-color="#8fa8d5"/><stop offset="0.35" stop-color="#a5bede"/><stop offset="0.5" stop-color="#b6cde0"/><stop offset="0.62" stop-color="#c7d7db"/><stop offset="0.75" stop-color="#e6e4c8"/><stop offset="0.88" stop-color="#f5edb5"/><stop offset="1" stop-color="#fcf496"/></linearGradient>
<polygon points="225.4,229.6 225.6,229.6 239.0,229.6 253.0,229.5 255.0,229.5 271.0,229.3 275.0,229.5 300.0,230.3 340.0,232.4 365.0,233.3 395.8,234.1 395.8,295.7 365.0,285.4 340.0,276.6 300.0,261.1 275.0,251.1 271.0,249.4 255.0,242.7 253.0,241.9 239.0,235.8 225.6,230.1 225.4,230.1" fill="url(#gdr16)"/>
<linearGradient id="gdr17" gradientUnits="userSpaceOnUse" x1="225.4" y1="0" x2="395.8" y2="0"><stop offset="0" stop-color="#4975c2"/><stop offset="0.08" stop-color="#6e8bc9"/><stop offset="0.2" stop-color="#91aad6"/><stop offset="0.35" stop-color="#a6c0df"/><stop offset="0.5" stop-color="#b9cfdf"/><stop offset="0.62" stop-color="#ccdad9"/><stop offset="0.75" stop-color="#efe8c1"/><stop offset="0.88" stop-color="#f9f1a9"/><stop offset="1" stop-color="#fef879"/></linearGradient>
<polygon points="225.4,229.6 225.6,229.6 239.0,230.0 253.0,230.4 255.0,230.4 271.0,230.7 275.0,231.0 300.0,232.5 340.0,235.5 365.0,237.0 395.8,238.5 395.8,295.7 365.0,285.4 340.0,276.6 300.0,261.1 275.0,251.1 271.0,249.4 255.0,242.7 253.0,241.9 239.0,235.8 225.6,230.1 225.4,230.1" fill="url(#gdr17)"/>
<linearGradient id="gdr18" gradientUnits="userSpaceOnUse" x1="225.4" y1="0" x2="395.8" y2="0"><stop offset="0" stop-color="#4975c2"/><stop offset="0.08" stop-color="#6f8dca"/><stop offset="0.2" stop-color="#94acd6"/><stop offset="0.35" stop-color="#a8c2df"/><stop offset="0.5" stop-color="#bcd0de"/><stop offset="0.62" stop-color="#d0dcd8"/><stop offset="0.75" stop-color="#f1e9bd"/><stop offset="0.88" stop-color="#fbf39a"/><stop offset="1" stop-color="#fffb66"/></linearGradient>
<polygon points="225.4,229.6 225.6,229.6 239.0,230.4 253.0,231.2 255.0,231.3 271.0,232.1 275.0,232.5 300.0,234.6 340.0,238.6 365.0,240.7 395.8,242.8 395.8,295.7 365.0,285.4 340.0,276.6 300.0,261.1 275.0,251.1 271.0,249.4 255.0,242.7 253.0,241.9 239.0,235.8 225.6,230.1 225.4,230.1" fill="url(#gdr18)"/>
<linearGradient id="gdr19" gradientUnits="userSpaceOnUse" x1="225.4" y1="0" x2="395.8" y2="0"><stop offset="0" stop-color="#4975c2"/><stop offset="0.08" stop-color="#708dca"/><stop offset="0.2" stop-color="#95aed7"/><stop offset="0.35" stop-color="#a9c3e0"/><stop offset="0.5" stop-color="#bed2dd"/><stop offset="0.62" stop-color="#d3ddd6"/><stop offset="0.75" stop-color="#f2ebbb"/><stop offset="0.88" stop-color="#fdf591"/><stop offset="1" stop-color="#fffb66"/></linearGradient>
<polygon points="225.4,229.6 225.6,229.6 239.0,230.9 253.0,232.1 255.0,232.2 271.0,233.5 275.0,234.0 300.0,236.8 340.0,241.8 365.0,244.4 395.8,247.2 395.8,295.7 365.0,285.4 340.0,276.6 300.0,261.1 275.0,251.1 271.0,249.4 255.0,242.7 253.0,241.9 239.0,235.8 225.6,230.1 225.4,230.1" fill="url(#gdr19)"/>
<linearGradient id="gdr20" gradientUnits="userSpaceOnUse" x1="225.4" y1="0" x2="395.8" y2="0"><stop offset="0" stop-color="#4975c2"/><stop offset="0.08" stop-color="#708dca"/><stop offset="0.2" stop-color="#95aed7"/><stop offset="0.35" stop-color="#a9c3e0"/><stop offset="0.5" stop-color="#bed2dd"/><stop offset="0.62" stop-color="#d3ddd6"/><stop offset="0.75" stop-color="#f2ebbb"/><stop offset="0.88" stop-color="#fdf590"/><stop offset="1" stop-color="#fffb66"/></linearGradient>
<polygon points="225.4,229.6 225.6,229.6 239.0,231.3 253.0,232.9 255.0,233.1 271.0,234.9 275.0,235.5 300.0,239.0 340.0,244.9 365.0,248.0 395.8,251.6 395.8,295.7 365.0,285.4 340.0,276.6 300.0,261.1 275.0,251.1 271.0,249.4 255.0,242.7 253.0,241.9 239.0,235.8 225.6,230.1 225.4,230.1" fill="url(#gdr20)"/>
<linearGradient id="gdr21" gradientUnits="userSpaceOnUse" x1="225.4" y1="0" x2="395.8" y2="0"><stop offset="0" stop-color="#4975c2"/><stop offset="0.08" stop-color="#708dca"/><stop offset="0.2" stop-color="#95aed7"/><stop offset="0.35" stop-color="#a9c3e0"/><stop offset="0.5" stop-color="#bed2dd"/><stop offset="0.62" stop-color="#d3ddd6"/><stop offset="0.75" stop-color="#f1eabc"/><stop offset="0.88" stop-color="#fcf497"/><stop offset="1" stop-color="#fffb66"/></linearGradient>
<polygon points="225.4,229.6 225.6,229.6 239.0,231.7 253.0,233.7 255.0,234.0 271.0,236.3 275.0,237.0 300.0,241.1 340.0,248.0 365.0,251.7 395.8,255.9 395.8,295.7 365.0,285.4 340.0,276.6 300.0,261.1 275.0,251.1 271.0,249.4 255.0,242.7 253.0,241.9 239.0,235.8 225.6,230.1 225.4,230.1" fill="url(#gdr21)"/>
<linearGradient id="gdr22" gradientUnits="userSpaceOnUse" x1="225.4" y1="0" x2="395.8" y2="0"><stop offset="0" stop-color="#4975c2"/><stop offset="0.08" stop-color="#708dca"/><stop offset="0.2" stop-color="#95aed7"/><stop offset="0.35" stop-color="#a9c3e0"/><stop offset="0.5" stop-color="#bed2dd"/><stop offset="0.62" stop-color="#d2ddd6"/><stop offset="0.75" stop-color="#f0e9be"/><stop offset="0.88" stop-color="#faf2a3"/><stop offset="1" stop-color="#fffa70"/></linearGradient>
<polygon points="225.4,229.6 225.6,229.6 239.0,232.1 253.0,234.6 255.0,234.9 271.0,237.7 275.0,238.5 300.0,243.3 340.0,251.1 365.0,255.4 395.8,260.3 395.8,295.7 365.0,285.4 340.0,276.6 300.0,261.1 275.0,251.1 271.0,249.4 255.0,242.7 253.0,241.9 239.0,235.8 225.6,230.1 225.4,230.1" fill="url(#gdr22)"/>
<linearGradient id="gdr23" gradientUnits="userSpaceOnUse" x1="225.4" y1="0" x2="395.8" y2="0"><stop offset="0" stop-color="#4975c2"/><stop offset="0.08" stop-color="#708dca"/><stop offset="0.2" stop-color="#95add7"/><stop offset="0.35" stop-color="#a9c2e0"/><stop offset="0.5" stop-color="#bed1dd"/><stop offset="0.62" stop-color="#d1dcd8"/><stop offset="0.75" stop-color="#efe8c1"/><stop offset="0.88" stop-color="#f8f0b0"/><stop offset="1" stop-color="#fdf68b"/></linearGradient>
<polygon points="225.4,229.6 225.6,229.6 239.0,232.5 253.0,235.4 255.0,235.8 271.0,239.1 275.0,240.0 300.0,245.4 340.0,254.2 365.0,259.1 395.8,264.6 395.8,295.7 365.0,285.4 340.0,276.6 300.0,261.1 275.0,251.1 271.0,249.4 255.0,242.7 253.0,241.9 239.0,235.8 225.6,230.1 225.4,230.1" fill="url(#gdr23)"/>
<linearGradient id="gdr24" gradientUnits="userSpaceOnUse" x1="225.4" y1="0" x2="395.8" y2="0"><stop offset="0" stop-color="#4975c2"/><stop offset="0.08" stop-color="#6f8cca"/><stop offset="0.2" stop-color="#93acd6"/><stop offset="0.35" stop-color="#a8c1df"/><stop offset="0.5" stop-color="#bcd0de"/><stop offset="0.62" stop-color="#cedbd9"/><stop offset="0.75" stop-color="#e9e5c6"/><stop offset="0.88" stop-color="#f4ecb8"/><stop offset="1" stop-color="#faf2a3"/></linearGradient>
<polygon points="225.4,229.6 225.6,229.6 239.0,232.9 253.0,236.3 255.0,236.8 271.0,240.5 275.0,241.5 300.0,247.6 340.0,257.3 365.0,262.8 395.8,269.0 395.8,295.7 365.0,285.4 340.0,276.6 300.0,261.1 275.0,251.1 271.0,249.4 255.0,242.7 253.0,241.9 239.0,235.8 225.6,230.1 225.4,230.1" fill="url(#gdr24)"/>
<linearGradient id="gdr25" gradientUnits="userSpaceOnUse" x1="225.4" y1="0" x2="395.8" y2="0"><stop offset="0" stop-color="#4975c2"/><stop offset="0.08" stop-color="#6e8cca"/><stop offset="0.2" stop-color="#92abd6"/><stop offset="0.35" stop-color="#a7c0df"/><stop offset="0.5" stop-color="#bacfde"/><stop offset="0.62" stop-color="#cbd9d9"/><stop offset="0.75" stop-color="#e1e2cb"/><stop offset="0.88" stop-color="#f1e9bd"/><stop offset="1" stop-color="#f6eeb3"/></linearGradient>
<polygon points="225.4,229.6 225.6,229.6 239.0,233.3 253.0,237.1 255.0,237.7 271.0,241.9 275.0,243.0 300.0,249.8 340.0,260.5 365.0,266.5 395.8,273.4 395.8,295.7 365.0,285.4 340.0,276.6 300.0,261.1 275.0,251.1 271.0,249.4 255.0,242.7 253.0,241.9 239.0,235.8 225.6,230.1 225.4,230.1" fill="url(#gdr25)"/>
<linearGradient id="gdr26" gradientUnits="userSpaceOnUse" x1="225.4" y1="0" x2="395.8" y2="0"><stop offset="0" stop-color="#4975c2"/><stop offset="0.08" stop-color="#6e8bc9"/><stop offset="0.2" stop-color="#91aad5"/><stop offset="0.35" stop-color="#a6bfde"/><stop offset="0.5" stop-color="#b9cedf"/><stop offset="0.62" stop-color="#c9d8da"/><stop offset="0.75" stop-color="#dce0cf"/><stop offset="0.88" stop-color="#efe8c1"/><stop offset="1" stop-color="#f3ebba"/></linearGradient>
<polygon points="225.4,229.6 225.6,229.6 239.0,233.7 253.0,238.0 255.0,238.6 271.0,243.3 275.0,244.5 300.0,251.9 340.0,263.6 365.0,270.2 395.8,277.7 395.8,295.7 365.0,285.4 340.0,276.6 300.0,261.1 275.0,251.1 271.0,249.4 255.0,242.7 253.0,241.9 239.0,235.8 225.6,230.1 225.4,230.1" fill="url(#gdr26)"/>
<linearGradient id="gdr27" gradientUnits="userSpaceOnUse" x1="225.4" y1="0" x2="395.8" y2="0"><stop offset="0" stop-color="#4975c2"/><stop offset="0.08" stop-color="#6d8bc9"/><stop offset="0.2" stop-color="#90a9d5"/><stop offset="0.35" stop-color="#a5bfde"/><stop offset="0.5" stop-color="#b7cedf"/><stop offset="0.62" stop-color="#c7d7db"/><stop offset="0.75" stop-color="#d9dfd2"/><stop offset="0.88" stop-color="#ebe6c5"/><stop offset="1" stop-color="#f0e9be"/></linearGradient>
<polygon points="225.4,229.6 225.6,229.6 239.0,234.1 253.0,238.8 255.0,239.5 271.0,244.7 275.0,246.1 300.0,254.1 340.0,266.7 365.0,273.8 395.8,282.1 395.8,295.7 365.0,285.4 340.0,276.6 300.0,261.1 275.0,251.1 271.0,249.4 255.0,242.7 253.0,241.9 239.0,235.8 225.6,230.1 225.4,230.1" fill="url(#gdr27)"/>
<linearGradient id="gdr28" gradientUnits="userSpaceOnUse" x1="225.4" y1="0" x2="395.8" y2="0"><stop offset="0" stop-color="#4975c2"/><stop offset="0.08" stop-color="#6d8bc9"/><stop offset="0.2" stop-color="#8fa8d5"/><stop offset="0.35" stop-color="#a5bede"/><stop offset="0.5" stop-color="#b6cde0"/><stop offset="0.62" stop-color="#c6d6db"/><stop offset="0.75" stop-color="#d7ded3"/><stop offset="0.88" stop-color="#e7e4c7"/><stop offset="1" stop-color="#efe8bf"/></linearGradient>
<polygon points="225.4,229.6 225.6,229.6 239.0,234.5 253.0,239.7 255.0,240.4 271.0,246.1 275.0,247.6 300.0,256.3 340.0,269.8 365.0,277.5 395.8,286.4 395.8,295.7 365.0,285.4 340.0,276.6 300.0,261.1 275.0,251.1 271.0,249.4 255.0,242.7 253.0,241.9 239.0,235.8 225.6,230.1 225.4,230.1" fill="url(#gdr28)"/>
<linearGradient id="gdr29" gradientUnits="userSpaceOnUse" x1="225.4" y1="0" x2="395.8" y2="0"><stop offset="0" stop-color="#4975c2"/><stop offset="0.08" stop-color="#6d8ac9"/><stop offset="0.2" stop-color="#8ea8d5"/><stop offset="0.35" stop-color="#a4bdde"/><stop offset="0.5" stop-color="#b6cce0"/><stop offset="0.62" stop-color="#c5d6db"/><stop offset="0.75" stop-color="#d5ded4"/><stop offset="0.88" stop-color="#e5e4c9"/><stop offset="1" stop-color="#efe8c1"/></linearGradient>
<polygon points="225.4,229.6 225.6,229.6 239.0,234.9 253.0,240.5 255.0,241.3 271.0,247.5 275.0,249.1 300.0,258.4 340.0,272.9 365.0,281.2 395.8,290.8 395.8,295.7 365.0,285.4 340.0,276.6 300.0,261.1 275.0,251.1 271.0,249.4 255.0,242.7 253.0,241.9 239.0,235.8 225.6,230.1 225.4,230.1" fill="url(#gdr29)"/>
</g>
<polyline points="225.6,231.1 253.0,240.4 275.0,247.7 300.0,255.8 340.0,268.5 365.0,275.7 405.8,287.0" fill="none" stroke="url(#lsb)" stroke-width="9" opacity="0.9" filter="url(#bl)"/>
</g>

<polygon points="245,213 250,211 255,209 260,206.4 264.3,203.4 267,200.4 269.7,198.2 274,197.5 279,197.6 281,198.3 278.5,201 276.3,203.7 275.7,207.7 271,210.6 265.7,213 253.7,217.8 251,215.7" fill="#ff0000"/>
<polygon points="257,213 266,208.8 275,204.5 275.7,207.7 271,210.4 265.7,212.4 257.7,216.4" fill="#a0008c"/>
<polygon points="263.7,212.6 275.7,207.6 275.9,208.6 264.2,213.6" fill="#fff"/>
<path d="M253,238.9 L275,246.2 L300,254.3 L340,267 L355,271.4 C357,274 358,278 357.4,280.5 C356,283.5 353.5,286 350,288 C346,290.2 340,291.4 334,291.8 C328,292 322,291.4 317,290 C311,288.4 304,286 299,284 C294,281.6 289,277 287,273.3 C285.4,270.6 285.4,268 284.6,265.6 L291,262.4 L297.5,259.6 L290,255.6 L280,251.2 L270,247 L262,243.5 Z" fill="#ff0000"/>
<path d="M286.8,263.6 C290,262.4 297,264.2 303.6,268.6 C303,270.2 300,270.6 297,270 C292,269 288,267 286.8,263.6 Z" fill="#4400b4"/>
<path d="M287.6,263.6 C290.5,262.8 297,264.6 302.4,268.2 C301.6,269.2 299.5,269.4 297.3,269 C292.6,268 289,266.2 287.6,263.6 Z" fill="#fff"/>
<polygon points="295,263.4 303.5,264.6 308.8,266.4 303,266" fill="#ff8000"/>
<path d="M297.6,260 C301,258.4 306,258.6 310,259.6 L309,261.2 C305,260.2 301,260.6 297.6,260 Z" fill="#4400b4"/>
<path d="M303,258.6 C307,257.2 312,257.8 315,259.4 C315.6,262 314.6,265 312.6,267.2 C311,266.4 309.6,265 308.6,263.2 C307,261.4 305,260 303,258.6 Z" fill="#fff"/>
<path d="M312.6,277.4 C317,276.2 327,278 333.8,281.6 C330,283.2 319,282.2 312.6,277.4 Z" fill="#4400b4"/>
<path d="M314.4,277.5 C318.5,276.9 326,278.2 331.6,281 C328,281.8 319.6,281 314.4,277.5 Z" fill="#fff"/>
<path d="M329.6,270.6 C332,267.6 337,266.2 341,267.6 C344,269.2 346.6,273 347,277 C346.6,280 343.6,281.4 341,281 C338,280.4 336,278 335,276 C333.6,273.6 331.6,271.6 329.6,270.6 Z" fill="#4400b4"/>
<path d="M331,270 C333.4,267.8 337,267 340.4,268.2 C343,269.8 345,273 345.4,276.4 C345,278.8 343,279.8 341.2,279.4 C339,278.8 337.4,277 336.4,275 C335,272.8 333,271 331,270 Z" fill="#fff"/>
<path d="M338.4,272 L341.4,277 L340,277.6 Z" fill="#ff0000"/>
<polygon points="331.6,264.8 335.6,265.6 334.6,268 332.4,267.4" fill="#a0008c"/>
<polygon points="355,271.2 362,273 360,275 356,274" fill="#fff"/>

<polyline points="225.6,229.6 253.0,238.9 275.0,246.2 300.0,254.3 340.0,267.0 365.0,274.2 395.8,282.5" fill="none" stroke="#1a1a1a" stroke-width="0.58"/>
<polyline points="225.6,229.6 239.0,224.3 255.0,217.6 271.0,211.0" fill="none" stroke="#1a1a1a" stroke-width="0.58"/>
<polyline points="271.0,211.0 300.0,202.0 395.8,177.0" fill="none" stroke="#1a1a1a" stroke-width="0.7" stroke-dasharray="2.2,1.6"/>
<circle cx="271" cy="211" r="1.3" fill="#fff" stroke="#555" stroke-width="0.3"/>
<rect x="225.4" y="165.5" width="170.4" height="128.0" fill="none" stroke="#333" stroke-width="0.7"/>
</g>
<g transform="translate(0,0.0)">
<rect x="399.3" y="7.4" width="12.2" height="32" fill="url(#cb)"/>
<rect x="399.3" y="39.4" width="12.2" height="16" fill="url(#hatch2)"/>
<rect x="399.3" y="55.4" width="12.2" height="16" fill="#ff8000"/>
<rect x="399.3" y="71.4" width="12.2" height="16" fill="#ff0000"/>
<rect x="399.3" y="87.4" width="12.2" height="16" fill="#a0008c"/>
<rect x="399.3" y="103.4" width="12.2" height="16" fill="#4400b4"/>
<rect x="399.3" y="119.4" width="12.2" height="16" fill="#fff"/>
<line x1="399.3" y1="39.4" x2="411.5" y2="39.4" stroke="#333" stroke-width="0.5"/>
<line x1="399.3" y1="55.4" x2="411.5" y2="55.4" stroke="#333" stroke-width="0.5"/>
<line x1="399.3" y1="71.4" x2="411.5" y2="71.4" stroke="#333" stroke-width="0.5"/>
<line x1="399.3" y1="87.4" x2="411.5" y2="87.4" stroke="#333" stroke-width="0.5"/>
<line x1="399.3" y1="103.4" x2="411.5" y2="103.4" stroke="#333" stroke-width="0.5"/>
<line x1="399.3" y1="119.4" x2="411.5" y2="119.4" stroke="#333" stroke-width="0.5"/>
<rect x="399.3" y="7.4" width="12.2" height="128" fill="none" stroke="#444" stroke-width="0.7"/>
<text class="s" x="413.2" y="18.2">phase-</text>
<text class="s" x="413.2" y="25.2">locked</text>
<text class="s" x="413.2" y="32.2">intensity</text>
<text class="s" x="413.2" y="46.2">freq.-locked</text>
<text class="s" x="413.2" y="53.0">oscillation</text>
<text class="s" x="413.2" y="62.2">period-1</text>
<text class="s" x="413.2" y="69.0">oscillation</text>
<text class="s" x="413.2" y="78.2">period-2</text>
<text class="s" x="413.2" y="85.0">oscillation</text>
<text class="s" x="413.2" y="94.2">period-3</text>
<text class="s" x="413.2" y="101.0">oscillation</text>
<text class="s" x="413.2" y="110.2">period-4</text>
<text class="s" x="413.2" y="117.0">oscillation</text>
<text class="s" x="413.2" y="126.2">irregular/</text>
<text class="s" x="413.2" y="133.0">chaotic</text>
</g>
<g transform="translate(0,158.1)">
<rect x="399.3" y="7.4" width="12.2" height="32" fill="url(#cb)"/>
<rect x="399.3" y="39.4" width="12.2" height="16" fill="url(#hatch2)"/>
<rect x="399.3" y="55.4" width="12.2" height="16" fill="#ff8000"/>
<rect x="399.3" y="71.4" width="12.2" height="16" fill="#ff0000"/>
<rect x="399.3" y="87.4" width="12.2" height="16" fill="#a0008c"/>
<rect x="399.3" y="103.4" width="12.2" height="16" fill="#4400b4"/>
<rect x="399.3" y="119.4" width="12.2" height="16" fill="#fff"/>
<line x1="399.3" y1="39.4" x2="411.5" y2="39.4" stroke="#333" stroke-width="0.5"/>
<line x1="399.3" y1="55.4" x2="411.5" y2="55.4" stroke="#333" stroke-width="0.5"/>
<line x1="399.3" y1="71.4" x2="411.5" y2="71.4" stroke="#333" stroke-width="0.5"/>
<line x1="399.3" y1="87.4" x2="411.5" y2="87.4" stroke="#333" stroke-width="0.5"/>
<line x1="399.3" y1="103.4" x2="411.5" y2="103.4" stroke="#333" stroke-width="0.5"/>
<line x1="399.3" y1="119.4" x2="411.5" y2="119.4" stroke="#333" stroke-width="0.5"/>
<rect x="399.3" y="7.4" width="12.2" height="128" fill="none" stroke="#444" stroke-width="0.7"/>
<text class="s" x="413.2" y="19.4">phase-</text>
<text class="s" x="413.2" y="26.4">locked</text>
<text class="s" x="413.2" y="33.4">intensity</text>
<text class="s" x="413.2" y="47.4">freq.-locked</text>
<text class="s" x="413.2" y="54.2">oscillation</text>
<text class="s" x="413.2" y="63.4">period-1</text>
<text class="s" x="413.2" y="70.2">oscillation</text>
<text class="s" x="413.2" y="79.4">period-2</text>
<text class="s" x="413.2" y="86.2">oscillation</text>
<text class="s" x="413.2" y="95.4">period-3</text>
<text class="s" x="413.2" y="102.2">oscillation</text>
<text class="s" x="413.2" y="111.4">period-4</text>
<text class="s" x="413.2" y="118.2">oscillation</text>
<text class="s" x="413.2" y="127.4">irregular/</text>
<text class="s" x="413.2" y="134.2">chaotic</text>
</g>
<text class="t" x="20.9" y="10.7" text-anchor="end" style="font-size:10px">8</text>
<line x1="22.4" y1="7.4" x2="24.0" y2="7.4" stroke="#333" stroke-width="0.5"/>
<line x1="192.8" y1="7.4" x2="191.20000000000002" y2="7.4" stroke="#333" stroke-width="0.5"/>
<text class="t" x="20.9" y="26.7" text-anchor="end" style="font-size:10px">6</text>
<line x1="22.4" y1="23.4" x2="24.0" y2="23.4" stroke="#333" stroke-width="0.5"/>
<line x1="192.8" y1="23.4" x2="191.20000000000002" y2="23.4" stroke="#333" stroke-width="0.5"/>
<text class="t" x="20.9" y="42.7" text-anchor="end" style="font-size:10px">4</text>
<line x1="22.4" y1="39.4" x2="24.0" y2="39.4" stroke="#333" stroke-width="0.5"/>
<line x1="192.8" y1="39.4" x2="191.20000000000002" y2="39.4" stroke="#333" stroke-width="0.5"/>
<text class="t" x="20.9" y="58.7" text-anchor="end" style="font-size:10px">2</text>
<line x1="22.4" y1="55.4" x2="24.0" y2="55.4" stroke="#333" stroke-width="0.5"/>
<line x1="192.8" y1="55.4" x2="191.20000000000002" y2="55.4" stroke="#333" stroke-width="0.5"/>
<text class="t" x="20.9" y="74.7" text-anchor="end" style="font-size:10px">0</text>
<line x1="22.4" y1="71.4" x2="24.0" y2="71.4" stroke="#333" stroke-width="0.5"/>
<line x1="192.8" y1="71.4" x2="191.20000000000002" y2="71.4" stroke="#333" stroke-width="0.5"/>
<text class="t" x="20.9" y="90.7" text-anchor="end" style="font-size:10px">−2</text>
<line x1="22.4" y1="87.4" x2="24.0" y2="87.4" stroke="#333" stroke-width="0.5"/>
<line x1="192.8" y1="87.4" x2="191.20000000000002" y2="87.4" stroke="#333" stroke-width="0.5"/>
<text class="t" x="20.9" y="106.7" text-anchor="end" style="font-size:10px">−4</text>
<line x1="22.4" y1="103.4" x2="24.0" y2="103.4" stroke="#333" stroke-width="0.5"/>
<line x1="192.8" y1="103.4" x2="191.20000000000002" y2="103.4" stroke="#333" stroke-width="0.5"/>
<text class="t" x="20.9" y="122.7" text-anchor="end" style="font-size:10px">−6</text>
<line x1="22.4" y1="119.4" x2="24.0" y2="119.4" stroke="#333" stroke-width="0.5"/>
<line x1="192.8" y1="119.4" x2="191.20000000000002" y2="119.4" stroke="#333" stroke-width="0.5"/>
<text class="t" x="20.9" y="138.7" text-anchor="end" style="font-size:10px">−8</text>
<line x1="22.4" y1="135.4" x2="24.0" y2="135.4" stroke="#333" stroke-width="0.5"/>
<line x1="192.8" y1="135.4" x2="191.20000000000002" y2="135.4" stroke="#333" stroke-width="0.5"/>
<text class="t" x="22.4" y="144.0" text-anchor="middle">0</text>
<line x1="22.4" y1="135.4" x2="22.4" y2="133.8" stroke="#333" stroke-width="0.5"/>
<line x1="22.4" y1="7.4" x2="22.4" y2="9.0" stroke="#333" stroke-width="0.5"/>
<text class="t" x="56.5" y="144.0" text-anchor="middle">0.2</text>
<line x1="56.5" y1="135.4" x2="56.5" y2="133.8" stroke="#333" stroke-width="0.5"/>
<line x1="56.5" y1="7.4" x2="56.5" y2="9.0" stroke="#333" stroke-width="0.5"/>
<text class="t" x="90.6" y="144.0" text-anchor="middle">0.4</text>
<line x1="90.6" y1="135.4" x2="90.6" y2="133.8" stroke="#333" stroke-width="0.5"/>
<line x1="90.6" y1="7.4" x2="90.6" y2="9.0" stroke="#333" stroke-width="0.5"/>
<text class="t" x="124.6" y="144.0" text-anchor="middle">0.6</text>
<line x1="124.6" y1="135.4" x2="124.6" y2="133.8" stroke="#333" stroke-width="0.5"/>
<line x1="124.6" y1="7.4" x2="124.6" y2="9.0" stroke="#333" stroke-width="0.5"/>
<text class="t" x="158.7" y="144.0" text-anchor="middle">0.8</text>
<line x1="158.7" y1="135.4" x2="158.7" y2="133.8" stroke="#333" stroke-width="0.5"/>
<line x1="158.7" y1="7.4" x2="158.7" y2="9.0" stroke="#333" stroke-width="0.5"/>
<text class="t" x="192.8" y="144.0" text-anchor="middle">1</text>
<line x1="192.8" y1="135.4" x2="192.8" y2="133.8" stroke="#333" stroke-width="0.5"/>
<line x1="192.8" y1="7.4" x2="192.8" y2="9.0" stroke="#333" stroke-width="0.5"/>
<text class="t" x="107.6" y="151.6" text-anchor="middle" style="font-size:10.4px">K</text>
<text class="t" transform="translate(8.8,71.2) rotate(-90) scale(1.2,1)" text-anchor="middle" style="font-size:9px;fill:#333">Δ<tspan font-style="italic">ν</tspan><tspan font-style="italic" font-size="6" dy="1.7" style="fill:#777">inj</tspan><tspan dy="-1.7" dx="3.2">(GHz)</tspan></text>
<text class="t" x="223.9" y="10.7" text-anchor="end" style="font-size:10px">6</text>
<line x1="225.4" y1="7.4" x2="227.0" y2="7.4" stroke="#333" stroke-width="0.5"/>
<line x1="395.8" y1="7.4" x2="394.2" y2="7.4" stroke="#333" stroke-width="0.5"/>
<text class="t" x="223.9" y="32.0" text-anchor="end" style="font-size:10px">4</text>
<line x1="225.4" y1="28.7" x2="227.0" y2="28.7" stroke="#333" stroke-width="0.5"/>
<line x1="395.8" y1="28.7" x2="394.2" y2="28.7" stroke="#333" stroke-width="0.5"/>
<text class="t" x="223.9" y="53.4" text-anchor="end" style="font-size:10px">2</text>
<line x1="225.4" y1="50.1" x2="227.0" y2="50.1" stroke="#333" stroke-width="0.5"/>
<line x1="395.8" y1="50.1" x2="394.2" y2="50.1" stroke="#333" stroke-width="0.5"/>
<text class="t" x="223.9" y="74.7" text-anchor="end" style="font-size:10px">0</text>
<line x1="225.4" y1="71.4" x2="227.0" y2="71.4" stroke="#333" stroke-width="0.5"/>
<line x1="395.8" y1="71.4" x2="394.2" y2="71.4" stroke="#333" stroke-width="0.5"/>
<text class="t" x="223.9" y="96.0" text-anchor="end" style="font-size:10px">−2</text>
<line x1="225.4" y1="92.7" x2="227.0" y2="92.7" stroke="#333" stroke-width="0.5"/>
<line x1="395.8" y1="92.7" x2="394.2" y2="92.7" stroke="#333" stroke-width="0.5"/>
<text class="t" x="223.9" y="117.4" text-anchor="end" style="font-size:10px">−4</text>
<line x1="225.4" y1="114.1" x2="227.0" y2="114.1" stroke="#333" stroke-width="0.5"/>
<line x1="395.8" y1="114.1" x2="394.2" y2="114.1" stroke="#333" stroke-width="0.5"/>
<text class="t" x="223.9" y="138.7" text-anchor="end" style="font-size:10px">−6</text>
<line x1="225.4" y1="135.4" x2="227.0" y2="135.4" stroke="#333" stroke-width="0.5"/>
<line x1="395.8" y1="135.4" x2="394.2" y2="135.4" stroke="#333" stroke-width="0.5"/>
<text class="t" x="225.4" y="144.0" text-anchor="middle">0</text>
<line x1="225.4" y1="135.4" x2="225.4" y2="133.8" stroke="#333" stroke-width="0.5"/>
<line x1="225.4" y1="7.4" x2="225.4" y2="9.0" stroke="#333" stroke-width="0.5"/>
<text class="t" x="248.1" y="144.0" text-anchor="middle">0.1</text>
<line x1="248.1" y1="135.4" x2="248.1" y2="133.8" stroke="#333" stroke-width="0.5"/>
<line x1="248.1" y1="7.4" x2="248.1" y2="9.0" stroke="#333" stroke-width="0.5"/>
<text class="t" x="270.8" y="144.0" text-anchor="middle">0.2</text>
<line x1="270.8" y1="135.4" x2="270.8" y2="133.8" stroke="#333" stroke-width="0.5"/>
<line x1="270.8" y1="7.4" x2="270.8" y2="9.0" stroke="#333" stroke-width="0.5"/>
<text class="t" x="293.6" y="144.0" text-anchor="middle">0.3</text>
<line x1="293.6" y1="135.4" x2="293.6" y2="133.8" stroke="#333" stroke-width="0.5"/>
<line x1="293.6" y1="7.4" x2="293.6" y2="9.0" stroke="#333" stroke-width="0.5"/>
<text class="t" x="316.3" y="144.0" text-anchor="middle">0.4</text>
<line x1="316.3" y1="135.4" x2="316.3" y2="133.8" stroke="#333" stroke-width="0.5"/>
<line x1="316.3" y1="7.4" x2="316.3" y2="9.0" stroke="#333" stroke-width="0.5"/>
<text class="t" x="339.0" y="144.0" text-anchor="middle">0.5</text>
<line x1="339.0" y1="135.4" x2="339.0" y2="133.8" stroke="#333" stroke-width="0.5"/>
<line x1="339.0" y1="7.4" x2="339.0" y2="9.0" stroke="#333" stroke-width="0.5"/>
<text class="t" x="361.7" y="144.0" text-anchor="middle">0.6</text>
<line x1="361.7" y1="135.4" x2="361.7" y2="133.8" stroke="#333" stroke-width="0.5"/>
<line x1="361.7" y1="7.4" x2="361.7" y2="9.0" stroke="#333" stroke-width="0.5"/>
<text class="t" x="384.4" y="144.0" text-anchor="middle">0.7</text>
<line x1="384.4" y1="135.4" x2="384.4" y2="133.8" stroke="#333" stroke-width="0.5"/>
<line x1="384.4" y1="7.4" x2="384.4" y2="9.0" stroke="#333" stroke-width="0.5"/>
<text class="t" x="310.6" y="151.6" text-anchor="middle" style="font-size:10.4px">K</text>
<text class="t" transform="translate(211.8,71.2) rotate(-90) scale(1.2,1)" text-anchor="middle" style="font-size:9px;fill:#333">Δ<tspan font-style="italic">ν</tspan><tspan font-style="italic" font-size="6" dy="1.7" style="fill:#777">inj</tspan><tspan dy="-1.7" dx="3.2">(GHz)</tspan></text>
<text class="t" x="20.9" y="168.8" text-anchor="end" style="font-size:10px">8</text>
<line x1="22.4" y1="165.5" x2="24.0" y2="165.5" stroke="#333" stroke-width="0.5"/>
<line x1="192.8" y1="165.5" x2="191.20000000000002" y2="165.5" stroke="#333" stroke-width="0.5"/>
<text class="t" x="20.9" y="184.8" text-anchor="end" style="font-size:10px">6</text>
<line x1="22.4" y1="181.5" x2="24.0" y2="181.5" stroke="#333" stroke-width="0.5"/>
<line x1="192.8" y1="181.5" x2="191.20000000000002" y2="181.5" stroke="#333" stroke-width="0.5"/>
<text class="t" x="20.9" y="200.8" text-anchor="end" style="font-size:10px">4</text>
<line x1="22.4" y1="197.5" x2="24.0" y2="197.5" stroke="#333" stroke-width="0.5"/>
<line x1="192.8" y1="197.5" x2="191.20000000000002" y2="197.5" stroke="#333" stroke-width="0.5"/>
<text class="t" x="20.9" y="216.8" text-anchor="end" style="font-size:10px">2</text>
<line x1="22.4" y1="213.5" x2="24.0" y2="213.5" stroke="#333" stroke-width="0.5"/>
<line x1="192.8" y1="213.5" x2="191.20000000000002" y2="213.5" stroke="#333" stroke-width="0.5"/>
<text class="t" x="20.9" y="232.8" text-anchor="end" style="font-size:10px">0</text>
<line x1="22.4" y1="229.5" x2="24.0" y2="229.5" stroke="#333" stroke-width="0.5"/>
<line x1="192.8" y1="229.5" x2="191.20000000000002" y2="229.5" stroke="#333" stroke-width="0.5"/>
<text class="t" x="20.9" y="248.8" text-anchor="end" style="font-size:10px">−2</text>
<line x1="22.4" y1="245.5" x2="24.0" y2="245.5" stroke="#333" stroke-width="0.5"/>
<line x1="192.8" y1="245.5" x2="191.20000000000002" y2="245.5" stroke="#333" stroke-width="0.5"/>
<text class="t" x="20.9" y="264.8" text-anchor="end" style="font-size:10px">−4</text>
<line x1="22.4" y1="261.5" x2="24.0" y2="261.5" stroke="#333" stroke-width="0.5"/>
<line x1="192.8" y1="261.5" x2="191.20000000000002" y2="261.5" stroke="#333" stroke-width="0.5"/>
<text class="t" x="20.9" y="280.8" text-anchor="end" style="font-size:10px">−6</text>
<line x1="22.4" y1="277.5" x2="24.0" y2="277.5" stroke="#333" stroke-width="0.5"/>
<line x1="192.8" y1="277.5" x2="191.20000000000002" y2="277.5" stroke="#333" stroke-width="0.5"/>
<text class="t" x="20.9" y="296.8" text-anchor="end" style="font-size:10px">−8</text>
<line x1="22.4" y1="293.5" x2="24.0" y2="293.5" stroke="#333" stroke-width="0.5"/>
<line x1="192.8" y1="293.5" x2="191.20000000000002" y2="293.5" stroke="#333" stroke-width="0.5"/>
<text class="t" x="22.4" y="302.1" text-anchor="middle">0</text>
<line x1="22.4" y1="293.5" x2="22.4" y2="291.9" stroke="#333" stroke-width="0.5"/>
<line x1="22.4" y1="165.5" x2="22.4" y2="167.1" stroke="#333" stroke-width="0.5"/>
<text class="t" x="56.5" y="302.1" text-anchor="middle">0.2</text>
<line x1="56.5" y1="293.5" x2="56.5" y2="291.9" stroke="#333" stroke-width="0.5"/>
<line x1="56.5" y1="165.5" x2="56.5" y2="167.1" stroke="#333" stroke-width="0.5"/>
<text class="t" x="90.6" y="302.1" text-anchor="middle">0.4</text>
<line x1="90.6" y1="293.5" x2="90.6" y2="291.9" stroke="#333" stroke-width="0.5"/>
<line x1="90.6" y1="165.5" x2="90.6" y2="167.1" stroke="#333" stroke-width="0.5"/>
<text class="t" x="124.6" y="302.1" text-anchor="middle">0.6</text>
<line x1="124.6" y1="293.5" x2="124.6" y2="291.9" stroke="#333" stroke-width="0.5"/>
<line x1="124.6" y1="165.5" x2="124.6" y2="167.1" stroke="#333" stroke-width="0.5"/>
<text class="t" x="158.7" y="302.1" text-anchor="middle">0.8</text>
<line x1="158.7" y1="293.5" x2="158.7" y2="291.9" stroke="#333" stroke-width="0.5"/>
<line x1="158.7" y1="165.5" x2="158.7" y2="167.1" stroke="#333" stroke-width="0.5"/>
<text class="t" x="192.8" y="302.1" text-anchor="middle">1</text>
<line x1="192.8" y1="293.5" x2="192.8" y2="291.9" stroke="#333" stroke-width="0.5"/>
<line x1="192.8" y1="165.5" x2="192.8" y2="167.1" stroke="#333" stroke-width="0.5"/>
<text class="t" x="107.6" y="309.7" text-anchor="middle" style="font-size:10.4px">K</text>
<text class="t" transform="translate(8.8,229.3) rotate(-90) scale(1.2,1)" text-anchor="middle" style="font-size:9px;fill:#333">Δ<tspan font-style="italic">ν</tspan><tspan font-style="italic" font-size="6" dy="1.7" style="fill:#777">inj</tspan><tspan dy="-1.7" dx="3.2">(GHz)</tspan></text>
<text class="t" x="223.9" y="168.8" text-anchor="end" style="font-size:10px">6</text>
<line x1="225.4" y1="165.5" x2="227.0" y2="165.5" stroke="#333" stroke-width="0.5"/>
<line x1="395.8" y1="165.5" x2="394.2" y2="165.5" stroke="#333" stroke-width="0.5"/>
<text class="t" x="223.9" y="190.1" text-anchor="end" style="font-size:10px">4</text>
<line x1="225.4" y1="186.8" x2="227.0" y2="186.8" stroke="#333" stroke-width="0.5"/>
<line x1="395.8" y1="186.8" x2="394.2" y2="186.8" stroke="#333" stroke-width="0.5"/>
<text class="t" x="223.9" y="211.5" text-anchor="end" style="font-size:10px">2</text>
<line x1="225.4" y1="208.2" x2="227.0" y2="208.2" stroke="#333" stroke-width="0.5"/>
<line x1="395.8" y1="208.2" x2="394.2" y2="208.2" stroke="#333" stroke-width="0.5"/>
<text class="t" x="223.9" y="232.8" text-anchor="end" style="font-size:10px">0</text>
<line x1="225.4" y1="229.5" x2="227.0" y2="229.5" stroke="#333" stroke-width="0.5"/>
<line x1="395.8" y1="229.5" x2="394.2" y2="229.5" stroke="#333" stroke-width="0.5"/>
<text class="t" x="223.9" y="254.1" text-anchor="end" style="font-size:10px">−2</text>
<line x1="225.4" y1="250.8" x2="227.0" y2="250.8" stroke="#333" stroke-width="0.5"/>
<line x1="395.8" y1="250.8" x2="394.2" y2="250.8" stroke="#333" stroke-width="0.5"/>
<text class="t" x="223.9" y="275.5" text-anchor="end" style="font-size:10px">−4</text>
<line x1="225.4" y1="272.2" x2="227.0" y2="272.2" stroke="#333" stroke-width="0.5"/>
<line x1="395.8" y1="272.2" x2="394.2" y2="272.2" stroke="#333" stroke-width="0.5"/>
<text class="t" x="223.9" y="296.8" text-anchor="end" style="font-size:10px">−6</text>
<line x1="225.4" y1="293.5" x2="227.0" y2="293.5" stroke="#333" stroke-width="0.5"/>
<line x1="395.8" y1="293.5" x2="394.2" y2="293.5" stroke="#333" stroke-width="0.5"/>
<text class="t" x="225.4" y="302.1" text-anchor="middle">0</text>
<line x1="225.4" y1="293.5" x2="225.4" y2="291.9" stroke="#333" stroke-width="0.5"/>
<line x1="225.4" y1="165.5" x2="225.4" y2="167.1" stroke="#333" stroke-width="0.5"/>
<text class="t" x="248.1" y="302.1" text-anchor="middle">0.1</text>
<line x1="248.1" y1="293.5" x2="248.1" y2="291.9" stroke="#333" stroke-width="0.5"/>
<line x1="248.1" y1="165.5" x2="248.1" y2="167.1" stroke="#333" stroke-width="0.5"/>
<text class="t" x="270.8" y="302.1" text-anchor="middle">0.2</text>
<line x1="270.8" y1="293.5" x2="270.8" y2="291.9" stroke="#333" stroke-width="0.5"/>
<line x1="270.8" y1="165.5" x2="270.8" y2="167.1" stroke="#333" stroke-width="0.5"/>
<text class="t" x="293.6" y="302.1" text-anchor="middle">0.3</text>
<line x1="293.6" y1="293.5" x2="293.6" y2="291.9" stroke="#333" stroke-width="0.5"/>
<line x1="293.6" y1="165.5" x2="293.6" y2="167.1" stroke="#333" stroke-width="0.5"/>
<text class="t" x="316.3" y="302.1" text-anchor="middle">0.4</text>
<line x1="316.3" y1="293.5" x2="316.3" y2="291.9" stroke="#333" stroke-width="0.5"/>
<line x1="316.3" y1="165.5" x2="316.3" y2="167.1" stroke="#333" stroke-width="0.5"/>
<text class="t" x="339.0" y="302.1" text-anchor="middle">0.5</text>
<line x1="339.0" y1="293.5" x2="339.0" y2="291.9" stroke="#333" stroke-width="0.5"/>
<line x1="339.0" y1="165.5" x2="339.0" y2="167.1" stroke="#333" stroke-width="0.5"/>
<text class="t" x="361.7" y="302.1" text-anchor="middle">0.6</text>
<line x1="361.7" y1="293.5" x2="361.7" y2="291.9" stroke="#333" stroke-width="0.5"/>
<line x1="361.7" y1="165.5" x2="361.7" y2="167.1" stroke="#333" stroke-width="0.5"/>
<text class="t" x="384.4" y="302.1" text-anchor="middle">0.7</text>
<line x1="384.4" y1="293.5" x2="384.4" y2="291.9" stroke="#333" stroke-width="0.5"/>
<line x1="384.4" y1="165.5" x2="384.4" y2="167.1" stroke="#333" stroke-width="0.5"/>
<text class="t" x="310.6" y="309.7" text-anchor="middle" style="font-size:10.4px">K</text>
<text class="t" transform="translate(211.8,229.3) rotate(-90) scale(1.2,1)" text-anchor="middle" style="font-size:9px;fill:#333">Δ<tspan font-style="italic">ν</tspan><tspan font-style="italic" font-size="6" dy="1.7" style="fill:#777">inj</tspan><tspan dy="-1.7" dx="3.2">(GHz)</tspan></text>
<line x1="28.7" y1="119.6" x2="40.9" y2="119.6" stroke="#1a1a1a" stroke-width="1.25" stroke-dasharray="2.7,2.05"/>
<line x1="28.7" y1="128.8" x2="40.9" y2="128.8" stroke="#1a1a1a" stroke-width="1.25"/>
<text class="t" x="43.8" y="122.5" style="font-size:10px">Hopf</text>
<text class="t" x="43.8" y="132.0" style="font-size:10px">SNIC</text>
<line x1="28.7" y1="277.7" x2="40.9" y2="277.7" stroke="#1a1a1a" stroke-width="1.25" stroke-dasharray="2.7,2.05"/>
<line x1="28.7" y1="286.9" x2="40.9" y2="286.9" stroke="#1a1a1a" stroke-width="1.25"/>
<text class="t" x="43.8" y="280.6" style="font-size:10px">Hopf</text>
<text class="t" x="43.8" y="290.1" style="font-size:10px">SNIC</text>
<line x1="231.70000000000002" y1="119.6" x2="243.9" y2="119.6" stroke="#1a1a1a" stroke-width="1.25" stroke-dasharray="2.7,2.05"/>
<line x1="231.70000000000002" y1="128.8" x2="243.9" y2="128.8" stroke="#1a1a1a" stroke-width="1.25"/>
<text class="t" x="246.8" y="122.5" style="font-size:10px">Hopf</text>
<text class="t" x="246.8" y="132.0" style="font-size:10px">SNIC</text>
<line x1="231.70000000000002" y1="277.7" x2="243.9" y2="277.7" stroke="#1a1a1a" stroke-width="1.25" stroke-dasharray="2.7,2.05"/>
<line x1="231.70000000000002" y1="286.9" x2="243.9" y2="286.9" stroke="#1a1a1a" stroke-width="1.25"/>
<text class="t" x="246.8" y="280.6" style="font-size:10px">Hopf</text>
<text class="t" x="246.8" y="290.1" style="font-size:10px">SNIC</text>
<text class="t" x="1" y="7.6">(a)</text>
<text class="t" x="203.8" y="6.8">(b)</text>
<text class="t" x="1" y="165.4">(c)</text>
<text class="t" x="203.8" y="165">(d)</text>
<text class="t" x="25.799999999999997" y="17.4" style="font-size:9.4px">MBBE</text>
<text class="t" x="228.8" y="17.4" style="font-size:9.4px">MBBE</text>
<text class="t" x="25.8" y="174.8" style="font-size:9.4px;font-style:italic;fill:#2a1800">α</text>
<text class="t" x="32.8" y="174.5" style="font-size:8.6px;fill:#6a4a20">=</text>
<text class="t" x="38.7" y="174.8" style="font-size:9.4px;font-style:italic;fill:#2a1800">α</text>
<polyline points="40.0,170 41.3,168.8 42.6,170" fill="none" stroke="#3a2408" stroke-width="0.5"/>
<text class="t" x="44.3" y="176.6" style="font-size:6.6px;font-style:italic;fill:#2a1800">K</text>
<text class="t" x="228.8" y="174.8" style="font-size:9.4px;font-style:italic;fill:#2a1800">α</text>
<text class="t" x="235.8" y="174.5" style="font-size:8.6px;fill:#6a4a20">=</text>
<text class="t" x="241.7" y="174.8" style="font-size:9.4px;font-style:italic;fill:#2a1800">α</text>
<polyline points="243.0,170 244.3,168.8 245.6,170" fill="none" stroke="#3a2408" stroke-width="0.5"/>
<text class="t" x="247.3" y="176.6" style="font-size:6.6px;font-style:italic;fill:#2a1800">K</text>
<text class="t" x="107.6" y="6.2" text-anchor="middle" style="font-size:9.3px">shallow dot</text>
<text class="t" x="310.6" y="6.2" text-anchor="middle" style="font-size:9.5px">deep dot</text>
</svg></body></html>
